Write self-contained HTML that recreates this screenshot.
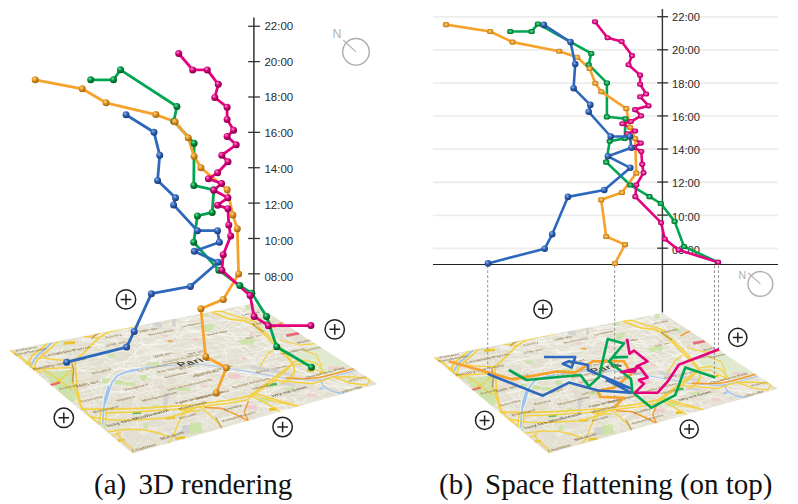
<!DOCTYPE html>
<html><head><meta charset="utf-8"><title>Figure</title>
<style>
html,body{margin:0;padding:0;background:#fff;}
body{width:798px;height:504px;overflow:hidden;position:relative;font-family:"Liberation Sans",sans-serif;}
svg{position:absolute;left:0;top:0;display:block}
.tl{font-family:"Liberation Sans",sans-serif;font-size:11.5px;fill:#2a2a2a;}
.tr{font-family:"Liberation Sans",sans-serif;font-size:11.15px;fill:#2a2a2a;}
.cn{font-family:"Liberation Sans",sans-serif;}
.mt{font-family:"Liberation Sans",sans-serif;}
.cap{position:absolute;font-family:"Liberation Serif",serif;font-size:29px;color:#111;white-space:nowrap;line-height:32px;}
.gp{display:inline-block;width:12.2px}
</style></head><body>
<svg width="798" height="504" viewBox="0 0 798 504">
<defs>
<radialGradient id="sb" cx="0.38" cy="0.34" r="0.68"><stop offset="0" stop-color="#8fb4ee"/><stop offset="0.45" stop-color="#2f62b5"/><stop offset="1" stop-color="#173a78"/></radialGradient>
<radialGradient id="so" cx="0.38" cy="0.34" r="0.68"><stop offset="0" stop-color="#ffd58a"/><stop offset="0.45" stop-color="#e0921d"/><stop offset="1" stop-color="#9a5f0c"/></radialGradient>
<radialGradient id="sg" cx="0.38" cy="0.34" r="0.68"><stop offset="0" stop-color="#6fe0a0"/><stop offset="0.45" stop-color="#00913f"/><stop offset="1" stop-color="#00521f"/></radialGradient>
<radialGradient id="sp" cx="0.38" cy="0.34" r="0.68"><stop offset="0" stop-color="#ff8fcf"/><stop offset="0.45" stop-color="#d4007a"/><stop offset="1" stop-color="#7c0046"/></radialGradient>
<radialGradient id="qb" cx="0.48" cy="0.46" r="0.72"><stop offset="0" stop-color="#8fb4ee"/><stop offset="0.5" stop-color="#2f62b5"/><stop offset="1" stop-color="#173a78"/></radialGradient>
<radialGradient id="qo" cx="0.48" cy="0.46" r="0.72"><stop offset="0" stop-color="#ffd58a"/><stop offset="0.5" stop-color="#e0921d"/><stop offset="1" stop-color="#9a5f0c"/></radialGradient>
<radialGradient id="qg" cx="0.48" cy="0.46" r="0.72"><stop offset="0" stop-color="#6fe0a0"/><stop offset="0.5" stop-color="#00913f"/><stop offset="1" stop-color="#00521f"/></radialGradient>
<radialGradient id="qp" cx="0.48" cy="0.46" r="0.72"><stop offset="0" stop-color="#ff8fcf"/><stop offset="0.5" stop-color="#d4007a"/><stop offset="1" stop-color="#7c0046"/></radialGradient>
<filter id="blur" x="-5%" y="-5%" width="110%" height="110%"><feGaussianBlur stdDeviation="0.55"/></filter>
<clipPath id="clip1"><polygon points="9.5,350.5 253.5,303.5 377.5,384.0 132.5,453.5"/></clipPath>
<clipPath id="clip2"><polygon points="433.5,357.5 662.5,313.0 777.8,388.8 548.5,453.5"/></clipPath>
</defs>
<rect width="798" height="504" fill="#fff"/>
<g clip-path="url(#clip1)"><g filter="url(#blur)">
<polygon points="9.5,350.5 253.5,303.5 377.5,384.0 132.5,453.5" fill="#e2dfd0" stroke="#e2dfd0" stroke-width="2"/>
<path d="M190.6 383.6L203.8 369.0M120.7 391.0L122.5 385.3M102.6 395.9L123.5 391.3M237.8 372.8L266.6 366.6M40.1 357.7L56.3 372.2M222.2 401.6L239.6 406.1M226.9 350.3L242.2 360.4M225.0 339.2L230.1 342.8M216.7 407.2L226.1 406.6M164.4 433.8L201.6 423.3M185.9 375.0L194.1 382.6M90.2 334.9L103.0 335.8M188.6 318.6L195.0 314.3M142.5 345.5L160.0 341.6M139.1 338.7L155.5 355.1M242.8 307.8L267.5 302.4M30.7 369.0L45.4 354.8M254.1 343.9L272.0 337.9M54.9 394.9L57.8 375.3M227.8 320.8L239.9 320.7M235.1 325.6L253.0 335.3M227.5 352.1L235.7 344.3M90.7 386.5L110.8 399.8M232.2 414.7L236.5 408.0M100.6 393.1L102.4 384.4M203.0 319.1L212.7 319.4M144.8 385.7L155.5 382.0M323.1 354.0L333.9 357.5M284.0 336.2L303.8 351.1M166.1 327.7L182.1 325.3M78.1 401.5L112.1 396.1M314.3 384.0L331.2 393.0M264.8 343.0L286.4 339.9M102.2 335.0L125.0 328.5M302.2 365.7L331.0 368.4M219.5 406.3L241.1 400.6M220.7 358.1L225.9 363.2M73.0 332.7L90.5 343.0M238.4 343.9L243.8 338.2M188.5 332.1L219.7 334.7M273.1 341.3L274.2 335.4M226.6 403.4L261.0 396.0M226.9 322.1L230.8 316.8M166.1 369.0L183.6 384.5M196.2 408.2L200.9 413.0M196.3 350.2L193.9 344.6M151.4 410.8L160.3 416.6M252.5 314.6L274.2 310.9M323.3 355.8L331.6 362.5M259.0 359.1L271.0 355.2M254.4 402.5L283.9 412.5M293.3 359.5L319.6 373.2M86.6 389.2L111.8 382.7M199.2 377.0L224.4 391.1M166.2 427.9L192.7 423.4M163.6 405.0L173.6 402.1M149.6 367.9L155.0 371.9M114.0 327.1L143.6 335.3M246.3 412.2L273.0 422.7M236.4 375.2L252.3 386.1M236.9 394.8L265.5 402.3M97.6 343.0L120.9 350.4M129.1 339.6L137.6 338.1M194.0 360.8L192.3 355.7M72.3 397.1L110.9 400.2M122.9 383.6L155.9 374.8M141.8 331.8L179.2 333.7M305.3 402.0L316.5 397.8M138.8 370.6L139.4 359.4M287.9 352.4L306.9 366.9M148.8 363.4L171.1 371.0M254.0 402.0L253.7 395.7M266.9 329.0L273.4 334.6M241.9 316.4L249.0 320.1M120.1 427.0L156.0 427.3M190.3 394.8L211.2 387.3M343.9 388.8L366.0 383.9M219.9 379.6L231.6 390.2M74.9 397.6L95.3 406.3M64.9 361.2L103.9 356.6M175.3 334.5L178.0 330.0M185.0 371.5L205.6 371.0M238.9 327.3L244.5 320.4M173.5 328.9L182.3 326.8M178.0 344.3L183.7 330.8M89.4 347.3L110.2 344.3M302.3 363.5L322.4 364.9M62.3 387.4L75.6 370.4M180.9 422.1L200.7 435.9M189.3 362.1L202.3 350.7M253.4 308.9L250.6 303.1M121.6 332.1L125.8 335.6M180.0 420.0L200.9 426.9M261.6 391.2L285.8 385.2M222.8 417.1L237.7 417.1M212.6 373.3L234.8 375.3M203.6 347.5L213.1 354.2M266.0 383.2L277.2 378.7M213.0 353.1L230.5 352.3M131.5 439.5L160.1 456.7M218.5 333.2L226.3 337.2M165.1 434.2L172.2 440.4M149.2 345.6L160.4 342.9M202.6 392.9L214.6 381.0M183.0 401.7L214.0 396.8M190.5 363.3L204.0 375.5M157.5 395.5L158.8 388.4M215.1 323.3L230.7 334.0M227.3 313.1L238.0 309.7M169.0 323.8L197.3 331.3M224.4 372.9L236.0 381.1M182.6 402.7L204.4 398.6M208.7 393.7L229.9 395.1M172.4 408.2L190.7 403.1M158.2 351.5L183.2 357.3M264.3 349.8L274.4 346.2M242.5 354.4L250.7 359.3M208.8 346.8L226.0 342.3M220.3 396.7L229.9 403.6M123.8 430.8L144.2 424.7M293.6 367.2L306.6 378.0M147.1 409.7L154.6 417.4M205.7 374.6L235.1 368.6M192.2 345.3L202.5 347.7M230.8 317.4L253.3 310.6M92.2 354.0L113.7 360.0M210.2 426.9L233.2 420.4M284.1 392.5L323.4 394.8M305.1 378.0L336.9 372.6M224.9 388.3L242.9 383.4M86.2 351.2L106.2 352.3M143.9 356.6L171.2 350.6M257.3 386.8L285.9 382.1M268.8 402.8L280.3 399.1M93.2 363.0L101.1 356.9M269.0 332.0L288.9 346.4M271.1 347.0L289.3 348.7M158.4 345.8L168.5 343.0M342.6 365.4L348.0 369.7M333.3 375.8L343.5 382.3M179.8 333.7L191.1 332.0M295.1 403.3L301.5 407.8M102.8 434.5L115.1 432.1M230.0 366.1L234.6 362.0M34.1 364.4L38.3 369.7M114.0 384.1L150.1 395.4M132.6 366.9L154.6 372.9M176.2 397.0L203.9 391.0M168.6 318.1L191.1 319.7M195.8 363.1L227.3 358.3M235.8 317.5L265.1 320.6M262.2 360.5L272.9 357.3M217.1 429.6L215.9 414.3M222.6 318.5L232.5 316.8M104.0 380.2L109.8 375.5M133.8 449.5L146.8 449.2M246.5 310.8L262.3 323.2M254.5 414.2L249.4 403.5M346.8 370.4L345.0 363.2M174.1 393.2L187.8 390.0M309.9 384.4L309.5 377.0M183.5 348.7L206.6 355.9M309.5 342.1L314.6 345.6M216.2 328.3L227.2 318.3M138.1 428.8L145.9 435.0M131.3 386.3L155.6 394.3M143.4 409.8L150.4 415.8M194.1 414.9L204.6 424.8M116.2 394.2L136.4 389.1M159.0 395.3L190.2 396.3M92.9 382.9L111.3 377.3M107.3 381.6L132.1 397.8M170.4 323.6L189.4 319.5M181.3 367.5L185.1 356.0M250.5 359.2L265.7 347.2M219.7 320.9L240.4 318.4M113.6 333.5L136.9 328.0M259.4 356.2L276.3 371.4M80.4 378.8L113.7 392.5M242.4 353.8L258.7 365.4M347.0 386.2L358.3 395.8M162.3 412.0L160.8 406.3M105.5 398.7L110.4 390.8M24.1 371.9L47.2 358.9M128.9 407.2L135.9 411.2M148.7 382.0L157.1 376.3M164.3 418.1L168.5 422.7M169.6 344.5L185.3 341.7M271.6 325.4L283.2 326.3M131.0 337.8L150.6 349.0M83.0 357.6L91.7 366.5M187.2 336.8L193.1 342.5M157.5 396.0L167.6 393.5M154.2 332.4L155.3 322.1M219.1 315.5L224.7 321.0M145.0 386.8L158.0 384.5M286.7 408.5L282.1 390.1M27.1 348.2L40.9 357.9M195.6 363.7L216.9 371.4M87.8 389.0L96.4 381.7M145.4 390.6L146.4 382.4M253.2 390.5L250.5 373.5M46.9 348.2L61.7 339.5M216.1 312.9L237.7 310.4M168.8 323.9L186.2 323.4M255.3 351.6L270.2 355.3M220.4 385.2L221.2 380.3M205.9 392.8L230.9 383.9M94.3 388.4L112.7 382.0M98.5 401.3L103.7 396.2M272.7 381.0L270.0 373.5M126.5 332.4L137.4 339.7M53.5 389.3L81.3 384.3M169.4 353.9L189.1 367.1M141.0 346.3L160.3 353.6M117.5 376.7L131.2 387.3M243.8 324.7L253.0 324.9M125.5 358.4L154.1 352.4M230.0 373.7L243.0 381.6M276.8 382.4L303.0 377.3M31.7 379.8L72.5 380.2M183.9 401.5L200.4 407.4M156.9 339.9L165.0 342.5M165.3 373.8L188.1 368.6M260.0 372.5L289.8 367.7M158.5 359.6L169.8 366.6M174.5 332.8L194.9 329.7M331.2 390.8L337.3 395.4M181.0 354.0L213.7 349.8M226.7 333.1L248.6 332.6M147.7 362.0L155.3 356.2M154.7 408.9L163.4 416.7M304.1 392.6L317.0 389.1M174.3 318.0L208.7 317.4M129.3 377.4L128.0 362.6M29.4 344.0L39.0 355.6M321.4 388.7L326.0 380.7M96.0 411.6L109.7 426.0M160.3 327.0L191.9 322.8M285.2 335.5L298.2 333.2M221.0 424.9L236.6 420.9M194.3 337.8L228.6 333.6M116.8 379.0L151.5 386.9M80.5 348.9L108.0 342.3M295.5 403.5L315.5 395.8M231.6 334.6L261.2 334.6M95.4 352.1L112.9 368.3M343.2 391.6L358.2 388.8M213.2 388.4L240.8 379.1M40.6 366.4L67.1 376.3M210.7 329.2L233.0 341.7M320.9 384.1L322.8 371.7M265.8 393.9L280.5 388.3M80.6 357.6L108.9 351.6M109.7 355.9L120.1 364.9M100.8 419.5L116.7 416.7M305.5 404.0L333.5 395.3M54.7 353.6L75.6 341.0M136.7 405.3L180.7 407.7M205.4 331.9L211.3 337.0M279.8 350.3L290.1 359.3M99.6 338.7L101.0 331.5M106.7 361.5L115.9 350.7M51.2 341.1L55.1 344.7M257.4 411.0L267.4 421.6M211.6 401.9L227.9 402.3M197.0 419.2L207.0 430.8M47.5 346.1L76.1 340.7M190.2 395.8L207.1 405.3M61.7 379.3L77.9 383.6M203.8 404.6L226.8 400.8M185.6 426.1L196.2 421.7M153.3 358.2L162.3 366.8M133.9 352.8L142.6 359.8M210.8 333.3L234.5 328.6M115.7 341.4L128.5 350.0M112.6 336.6L134.0 331.6M28.8 366.7L41.5 364.7M234.3 408.9L254.9 424.2M213.3 315.6L230.6 317.4M258.8 358.4L278.6 351.9M241.4 318.0L241.3 304.6M198.9 378.0L223.1 369.8M171.2 368.4L192.2 368.9M144.2 331.7L154.7 322.1M254.7 320.5L258.9 315.0M100.2 378.7L134.5 388.8M298.9 393.7L323.8 385.0M307.3 373.9L322.5 377.9M306.8 362.3L318.2 370.0M245.6 391.4L269.4 408.4M92.4 402.1L99.3 397.6M312.7 370.4L321.1 373.8M228.0 321.9L240.7 328.3M228.3 319.9L235.7 318.6M236.5 309.6L246.1 316.1M270.9 411.5L289.9 410.0M339.6 391.8L336.3 384.7M121.2 397.6L131.9 394.0M206.5 347.6L213.9 351.4M235.8 340.4L242.9 346.3M224.1 359.2L222.6 349.2M270.0 332.5L293.8 332.4M139.7 432.6L163.1 427.3M206.4 404.9L202.7 390.5M150.9 356.1L158.9 349.8M197.9 336.7L224.0 337.1M130.0 356.9L163.2 351.9M158.2 327.5L171.0 334.5M81.3 397.8L94.4 415.3M190.6 331.9L208.5 327.7M197.0 385.9L234.0 380.5M135.8 341.8L169.1 353.6M324.6 349.6L340.1 359.8M109.1 343.9L143.2 342.9M131.2 412.6L136.7 393.7M217.4 325.6L221.9 318.4M345.4 380.7L358.9 375.3M212.4 318.6L221.1 321.4M47.0 348.9L65.5 353.9M112.5 376.7L140.1 373.1M199.5 362.9L221.2 359.3M292.0 344.5L327.4 346.3M116.5 330.7L127.6 329.2M104.7 394.8L127.6 388.9M146.0 353.8L153.5 358.5M146.4 372.4L168.0 381.6M151.6 360.4L150.2 351.4M248.9 342.6L260.3 342.7M218.2 312.7L233.7 317.1M260.7 379.9L278.7 374.5M198.4 372.3L220.7 366.3M72.9 402.1L89.9 414.8M245.5 329.1L242.8 323.4M230.7 391.7L244.7 389.2M324.1 386.7L335.4 393.8M148.9 440.1L161.7 449.2M275.6 366.0L296.1 363.2M235.2 363.7L240.1 367.6M156.4 327.0L167.2 316.6M56.8 351.0L77.9 346.3M247.9 349.7L279.8 344.7M237.8 364.7L255.5 361.3M256.0 322.6L267.6 322.8M72.6 367.8L96.7 366.5M143.1 413.2L156.8 399.3M196.2 363.6L207.8 367.8M96.2 373.1L116.1 369.3M196.5 384.6L205.6 373.2M229.8 349.2L243.0 346.8M148.8 369.7L157.7 367.1M192.9 395.2L204.2 396.1M359.1 379.9L361.7 375.1M209.1 319.3L216.1 324.1M217.8 364.2L230.8 373.4M218.4 320.4L228.9 317.6M138.2 429.2L134.0 407.5M220.2 339.3L238.4 352.8M74.0 379.6L90.4 376.1M150.1 382.7L160.1 390.2M320.9 392.1L332.3 390.0M220.8 368.5L245.0 363.0M137.3 367.0L150.3 378.2M169.1 353.7L179.1 364.3M221.9 310.0L254.6 317.7M91.2 337.7L94.6 331.7M186.5 418.3L216.1 413.3M74.5 401.0L95.9 408.0M116.8 417.4L117.4 409.4M175.0 372.3L183.7 370.6M76.8 367.3L87.7 374.4M350.8 383.8L380.7 378.2M265.6 395.3L264.9 382.1M86.9 398.0L103.2 392.7M242.7 308.3L252.1 305.7M11.6 348.9L23.1 364.8M113.4 351.9L146.9 350.3M60.6 378.5L71.2 387.4M282.7 335.5L293.3 341.2M171.1 431.5L196.9 422.6M232.9 372.4L234.3 366.1M79.8 387.9L96.5 403.8M120.8 418.8L127.0 423.6M141.6 363.6L161.8 361.1M192.5 381.6L213.8 395.7M288.5 354.7L313.6 348.6M21.4 352.0L34.8 349.2M170.1 419.0L179.0 428.9M129.6 413.4L141.2 409.5M313.3 372.9L320.6 360.7M141.8 430.9L172.3 424.2M103.9 353.0L125.4 347.5M260.3 357.9L270.9 354.2M340.3 381.9L376.0 390.8M187.3 416.0L186.7 401.7M153.0 344.2L158.2 341.1M173.1 350.0L197.4 342.9M237.4 305.9L259.1 307.8M139.0 346.4L169.9 337.6M151.3 389.9L159.8 397.5M71.5 359.4L73.8 349.5M191.7 437.5L203.8 418.1M192.2 367.2L210.8 383.8M134.8 393.8L153.7 390.1M169.4 323.1L178.9 315.1M252.8 372.3L278.4 371.8M60.0 380.6L64.7 374.5M134.3 376.8L143.2 374.3M231.6 329.7L249.0 333.8M298.8 347.2L301.9 340.3M308.6 364.4L323.1 351.1M274.5 376.9L291.7 391.7M86.5 382.0L110.8 395.9M197.5 381.6L227.5 384.2M259.9 309.9L274.3 323.1M147.1 386.6L158.6 400.1M264.7 367.7L296.6 370.4M272.0 412.4L279.3 398.2M25.6 358.5L43.0 370.1M240.4 352.8L257.9 364.7M245.4 380.6L274.3 372.1M208.5 431.7L206.1 419.2M128.8 355.6L137.1 359.2M283.7 355.9L293.1 347.4M127.9 389.3L140.5 398.7M50.4 375.1L80.6 387.5M179.6 430.1L186.1 425.1M192.4 383.0L224.7 395.4M206.2 357.4L218.2 354.8M184.7 329.3L196.8 340.0M169.4 413.5L191.7 408.7M357.3 373.4L375.1 389.0M149.4 326.5L159.6 319.2M303.1 336.8L320.2 347.3M94.9 421.9L120.3 414.0M6.6 355.4L38.3 357.3M340.8 379.9L355.5 367.7M90.2 330.3L117.3 339.2M170.8 406.6L183.2 415.8M112.2 374.7L123.2 384.3M175.9 330.9L186.6 322.3M238.5 358.1L249.2 359.1M177.6 409.3L179.3 394.4M101.3 372.0L105.4 360.2M192.4 354.8L214.1 354.9M175.9 337.7L213.2 337.8M90.8 398.5L100.1 408.9M259.1 355.7L278.4 367.0M263.6 413.7L287.6 408.5M144.9 384.5L160.5 391.1M208.6 340.7L219.9 341.4M187.4 380.8L203.4 365.4M118.9 335.5L144.0 329.5M253.4 335.8L270.7 345.2M189.4 357.0L207.4 356.4M65.6 342.4L74.7 340.8M143.0 389.4L137.6 372.7M141.6 397.4L164.9 413.6M293.2 370.0L318.4 363.2M282.7 400.7L299.5 412.9M161.5 427.9L180.4 446.9M319.8 389.4L340.4 383.6M174.8 421.1L181.2 426.1M186.0 320.6L210.9 317.1M36.6 344.1L46.7 354.5M24.0 358.3L53.6 354.5M28.2 355.8L50.6 368.8M185.6 345.2L211.6 358.6M79.8 335.3L87.4 340.7M140.6 430.9L148.4 424.0M236.9 356.7L256.4 358.2M184.0 366.6L210.9 378.2M104.6 362.6L139.8 360.8M97.2 347.6L123.1 356.7M85.8 383.7L102.5 403.0M52.6 364.0L65.4 374.9M51.9 373.1L55.7 378.3M11.7 362.6L48.2 364.7M260.2 404.9L286.7 405.6M178.1 338.1L185.5 332.6M105.5 373.2L139.4 386.5M94.7 417.6L103.6 425.7M200.5 416.8L238.3 428.9M178.7 410.7L184.0 415.7M272.9 367.9L290.5 381.1M291.0 396.8L307.0 411.7M240.0 372.0L255.9 369.4M171.5 388.1L212.8 388.7M192.7 341.0L197.9 345.2M219.5 348.8L245.5 345.6M269.7 333.2L285.0 328.1M55.7 372.7L90.1 361.8M201.2 361.0L202.2 349.1M201.2 373.1L201.8 362.9M196.1 323.1L210.7 318.9M282.4 362.0L307.5 357.4M109.6 336.0L115.7 339.6M149.8 399.3L158.3 396.3M273.0 402.1L286.2 398.8M67.5 345.5L84.1 354.9M108.7 391.5L131.6 391.5M165.9 372.7L175.1 371.5M289.6 342.3L290.3 335.4M239.8 314.4L272.5 317.3M234.4 307.5L243.8 313.0M288.5 398.7L317.7 391.6M201.8 324.2L231.0 319.7M244.2 384.9L246.7 372.8M352.7 367.4L359.0 372.9M140.3 334.9L162.7 330.2M160.8 382.4L180.1 394.8M126.2 377.8L123.3 361.1M173.1 389.2L197.2 381.0M226.6 355.9L235.6 359.0M223.6 331.3L240.2 319.8M140.3 380.9L160.6 394.5M216.3 371.3L235.2 381.9M214.7 400.9L238.4 409.7M248.4 309.7L258.7 308.5M248.4 359.8L252.9 364.2M148.4 336.7L147.3 332.3M113.1 396.0L121.7 406.1M296.2 354.2L294.5 349.9M177.7 407.4L187.5 407.4M272.1 345.9L287.2 349.5M133.4 365.8L166.2 361.7M90.5 404.6L114.7 406.0M316.9 358.3L325.4 362.7M258.7 412.6L280.5 406.2M255.9 389.8L263.0 382.4M250.5 325.9L259.3 322.9M55.8 356.9L69.0 354.4M197.3 382.0L205.5 379.6M118.6 331.8L145.9 337.8M222.3 405.3L241.2 423.4M155.5 352.2L184.4 351.7M136.0 345.5L144.6 338.8M323.9 372.7L336.7 370.3M138.0 381.6L150.0 394.4M223.5 338.6L259.6 341.9M140.3 338.3L153.3 334.9M215.1 379.2L222.5 383.6M313.0 354.6L328.3 349.0M189.8 379.7L204.6 395.0M213.7 343.8L222.8 350.5M259.5 342.1L272.5 338.4M260.0 312.8L274.6 322.9M300.5 348.2L324.4 342.7M169.7 413.0L190.4 431.9M335.3 368.9L340.4 372.8M126.3 326.5L158.9 325.7M129.8 382.4L133.6 378.1M141.0 353.7L172.5 346.0M129.7 427.0L156.2 417.8M127.9 392.4L138.6 405.6M324.6 368.6L348.2 362.4M98.6 390.5L134.4 392.8M31.7 361.6L72.3 356.0M49.1 358.7L66.3 355.4M63.2 376.9L91.7 375.2M248.5 317.9L268.0 329.1M179.7 372.8L185.5 377.0M184.8 327.5L206.3 323.6M117.3 451.5L145.8 452.0M146.2 416.4L155.5 409.9M147.6 370.7L170.3 367.5M237.2 308.5L252.4 319.6M172.3 374.0L188.8 361.5M325.5 362.1L338.2 357.1M297.0 349.1L311.4 349.9M43.3 372.0L65.8 385.8M259.4 394.0L273.8 393.8M93.7 418.3L117.9 434.1M100.3 380.7L118.3 368.1M62.2 399.2L95.9 391.2M237.6 304.2L256.9 317.8M176.8 434.5L184.1 442.8M143.9 377.7L145.3 370.7M272.7 353.2L298.9 345.6M117.7 336.5L134.1 336.0M179.0 373.5L193.2 369.6M177.8 375.1L191.9 384.6M144.5 377.5L173.9 376.1M110.9 365.2L140.0 357.2M190.1 318.7L209.4 314.7M164.5 362.0L174.5 365.4M250.8 356.4L269.5 352.8M303.5 373.0L335.6 383.5M174.9 331.9L187.2 330.5M136.6 422.7L145.7 408.2M18.1 369.9L55.6 372.8M291.7 338.3L295.4 334.9M66.0 389.1L84.1 400.7M251.8 320.0L256.6 311.1M95.0 372.8L115.7 379.2M348.7 379.5L363.4 383.3M287.9 341.3L297.3 348.1M154.8 436.9L166.7 434.1M312.2 382.6L325.7 392.1M332.9 365.1L335.6 357.4M313.2 350.0L319.8 355.0M269.1 318.4L274.8 322.8M337.8 372.1L344.1 376.5M23.8 359.7L33.8 347.9M241.2 321.1L250.9 328.5M240.1 343.5L254.2 343.8M212.8 407.4L244.0 396.2M222.1 319.7L247.2 321.8M187.1 322.2L185.0 315.0M128.1 366.1L162.4 357.4M239.2 370.2L269.3 365.9M133.5 330.9L134.4 325.2M99.5 324.1L118.3 339.7M305.6 365.1L327.9 379.7M247.9 356.5L266.2 366.1M153.3 403.5L183.4 396.4M91.1 389.4L99.8 398.7M189.4 343.2L201.7 349.6M208.3 418.6L205.4 405.4M231.4 415.9L228.0 406.4M18.9 362.5L60.8 356.6M227.0 321.0L231.6 316.9M174.0 349.1L177.8 345.0M100.4 351.5L112.5 360.5M339.1 379.2L349.0 387.7M186.2 373.9L211.0 366.4M226.5 324.4L237.0 317.2M183.0 316.7L203.8 321.3M102.2 348.5L136.5 348.6M176.6 368.7L190.2 382.2M185.6 395.0L211.5 410.9M338.5 369.6L335.8 359.6M220.8 341.8L238.0 343.6M23.3 350.7L47.9 344.3M222.3 416.5L232.2 423.0M40.3 353.1L43.9 342.0M212.3 332.1L220.5 336.9M334.8 377.5L365.0 386.7M45.7 380.0L78.9 369.1M215.0 312.3L246.6 312.4M94.5 397.9L105.1 394.5M142.1 345.5L141.6 331.2M187.6 346.7L206.4 362.5M89.9 359.1L99.2 353.4M180.3 354.5L189.0 352.7M264.5 333.3L284.6 344.2M278.0 327.9L283.3 316.1M235.2 418.8L245.3 415.0M275.8 391.3L272.2 382.8M163.6 378.9L194.8 372.7M244.4 327.6L258.3 317.4M113.2 355.6L125.8 347.1M131.3 365.9L148.5 382.1M158.1 387.8L158.3 381.4M224.3 424.1L240.7 424.1M269.2 352.0L284.3 339.4M193.3 358.5L220.2 353.5M46.0 351.3L59.0 350.9M259.8 390.0L290.2 400.6M35.0 385.6L76.2 379.2M70.6 336.2L102.7 345.2M142.3 345.0L175.8 343.5M54.5 346.7L54.9 340.3M318.9 361.6L332.8 372.3M228.1 330.1L236.5 337.6M150.0 389.1L166.6 404.5M76.4 347.8L99.6 344.9M205.9 422.6L240.8 413.8M190.9 347.7L208.2 348.5M307.9 364.0L316.7 370.5M212.1 399.9L247.7 409.5M243.0 360.7L258.2 365.7M100.2 339.4L114.4 347.0M255.6 417.1L252.2 409.0M206.8 314.0L228.4 308.3M138.2 334.1L164.4 342.1M91.0 339.3L103.5 349.9M112.7 368.1L151.9 368.9M105.7 339.0L140.7 349.9M109.8 341.1L137.1 334.6M253.9 352.4L263.9 342.4M237.1 365.8L259.5 362.2M240.2 422.0L249.7 412.8M81.4 340.5L107.5 333.7M172.2 333.9L195.5 346.6M172.9 345.8L181.0 332.8M263.8 336.0L269.2 340.7M215.4 314.7L215.5 307.7M166.0 385.7L161.2 371.8M158.1 381.4L165.4 371.7M209.0 419.9L219.3 409.3M187.1 428.5L205.8 435.5M236.0 345.4L250.9 356.5M272.1 343.1L284.1 343.4M260.1 398.4L289.2 414.5M248.5 393.4L263.9 409.2M78.9 392.2L107.5 384.5M152.6 386.5L155.2 369.7M310.2 356.9L321.9 364.6M163.7 361.6L179.3 371.0M150.1 390.9L159.9 388.8M212.9 377.7L240.5 392.2M316.1 393.7L332.6 403.3M147.1 342.1L182.4 336.5M37.9 350.4L53.3 346.5M143.6 371.1L163.6 378.0M277.0 382.9L307.8 390.9M225.4 311.2L241.3 319.9M52.4 387.7L56.3 383.6M125.3 368.9L134.4 377.1M238.5 322.9L254.3 330.6M192.3 378.6L211.0 377.4M246.2 355.9L267.4 363.7M204.5 372.3L220.9 383.7M202.1 329.6L228.9 323.5M111.2 393.8L116.8 397.8M183.9 324.1L187.5 318.3M135.1 333.1L136.7 322.9M157.1 405.0L173.2 417.8M197.8 390.6L198.6 380.4M339.0 386.0L362.9 393.5M210.5 342.4L207.3 333.1M150.7 346.9L154.3 350.6M129.4 367.1L137.0 355.7M302.1 385.4L303.9 375.5M174.1 343.6L183.7 352.5M103.8 327.3L115.7 337.4M144.7 448.9L163.2 444.9M188.2 325.2L204.8 335.6M335.5 381.4L352.9 380.9M294.7 400.2L297.1 395.6M165.8 361.6L197.2 355.1M221.6 393.6L255.0 385.8M131.6 453.3L145.4 433.7M284.3 350.2L293.2 356.5M167.7 385.5L181.5 383.0M71.2 399.5L86.3 400.5M205.6 335.0L220.2 347.2M322.1 360.8L329.7 358.0M153.2 360.3L163.1 366.7M124.0 335.0L132.5 340.2M304.8 357.3L322.7 373.0M101.8 386.3L119.4 381.7M97.1 426.5L106.8 424.6M182.0 325.9L199.0 335.8M245.2 382.3L257.3 389.7M120.3 348.9L144.7 357.8M286.2 367.3L298.6 356.5M239.5 372.6L253.6 372.4M216.5 340.9L246.8 351.9M284.2 342.0L305.3 347.0M179.6 370.8L195.9 375.2M204.4 408.4L227.5 403.1M240.2 347.3L250.8 358.0M212.5 361.8L233.1 358.9M68.3 405.9L89.0 406.0M170.9 348.1L190.9 348.6M198.1 393.0L220.5 410.2M239.7 391.5L276.0 389.6M199.9 337.5L205.5 331.9M282.2 383.4L277.7 372.6M274.9 379.0L306.0 378.9M65.2 386.9L77.6 401.9M282.3 355.0L286.9 343.7M77.7 343.3L110.5 335.7M149.4 331.6L151.3 323.2M141.2 333.5L155.1 337.0M88.0 356.8L120.8 348.7M204.2 337.1L216.8 338.4M228.8 353.1L236.2 360.5M265.3 365.2L278.0 361.1M271.8 364.1L298.7 360.5M205.1 352.4L230.0 348.7M165.8 408.5L182.5 409.2M25.8 358.1L37.8 374.4M135.1 352.3L138.9 348.0M359.5 383.5L358.9 372.0M262.0 416.2L266.5 409.6M272.0 398.5L287.4 409.0M232.5 343.1L246.6 330.0M125.4 412.1L147.7 397.5M266.0 330.0L273.2 328.2M213.6 315.4L217.2 318.9M231.8 328.5L248.1 324.6M87.6 419.0L91.0 397.8M210.1 361.7L227.8 371.6M131.4 375.6L146.1 384.7M223.1 334.2L222.5 326.1M247.8 338.1L255.4 342.8M305.9 359.5L329.5 361.1M130.9 363.2L148.3 358.4M83.4 329.1L101.6 341.8M323.7 378.3L341.6 390.1M361.9 386.9L370.2 385.0M235.8 354.4L268.0 350.0M121.1 419.8L137.5 423.5M168.8 337.6L186.5 334.3M201.6 427.4L212.6 424.1M142.6 430.2L161.5 442.8M140.9 363.7L175.0 356.6M256.2 395.3L276.5 387.4M309.9 352.8L317.9 357.7M33.4 355.1L56.8 363.6M187.1 349.4L209.5 344.5M75.2 372.7L107.6 362.8M303.3 403.9L308.5 391.5M120.0 392.9L128.4 391.1M62.2 342.3L95.8 338.0M279.2 363.9L303.3 371.8M165.6 367.3L184.3 377.6M181.4 323.3L206.0 336.9M169.2 367.0L178.1 364.5M137.8 329.5L138.1 323.1M285.0 353.5L292.9 341.6M186.7 391.7L203.6 407.8M118.0 405.9L138.1 421.9M269.1 392.8L286.8 407.2M299.2 351.2L316.4 356.2M82.6 350.2L82.4 336.5M30.9 376.0L36.5 364.4M212.8 418.6L225.3 419.7M235.4 369.2L249.9 374.1M174.7 426.1L196.1 408.4M238.3 305.2L271.8 308.3M263.6 401.8L287.1 396.7M18.4 354.9L51.1 349.2M160.7 353.4L196.1 347.8M249.6 327.7L262.7 339.9M200.8 418.8L219.3 430.8M99.1 335.2L134.2 337.3M222.3 307.1L236.5 315.8M120.9 442.8L123.7 431.8M282.3 344.0L307.8 349.9M265.1 414.3L288.7 409.4M172.2 324.7L177.4 329.1M41.1 358.1L54.6 370.0M294.4 404.2L295.2 398.3M152.1 415.5L154.2 408.6M93.9 355.6L101.0 358.7M227.6 356.6L224.8 349.2M107.0 425.5L130.5 421.9M155.2 326.2L165.2 336.2M286.6 392.7L299.8 403.7M233.9 340.5L247.2 347.3M263.2 339.8L278.5 349.9M262.9 341.9L278.2 349.9M31.1 350.2L55.6 343.9M168.1 422.0L181.6 419.2M63.4 356.0L73.7 364.8M311.8 386.2L336.4 376.2M123.2 327.1L127.6 330.6M126.1 336.6L128.1 331.7M171.4 405.4L202.5 400.8M146.4 448.3L147.7 439.2M123.1 330.7L139.3 347.1M15.7 351.7L29.3 347.8M173.8 313.8L192.2 325.1M187.0 374.9L216.4 367.2M313.5 367.1L335.9 362.9M258.0 351.0L285.5 347.4M279.5 344.4L278.8 334.7M240.6 341.9L253.3 351.8M172.0 339.7L173.8 334.6M193.9 370.0L194.4 356.5M304.6 376.1L315.5 374.5M66.2 334.2L79.1 347.2M270.0 409.5L286.3 403.0M244.4 414.5L258.2 412.0M95.8 420.3L105.6 400.9M281.7 376.8L290.4 375.1M248.2 318.8L255.8 316.8M212.8 423.4L224.8 419.9M67.6 381.4L74.1 374.0M231.5 305.7L249.4 317.2M113.7 413.3L124.3 417.4M224.1 337.8L240.8 348.3M80.1 352.3L105.0 353.4M229.7 414.7L243.1 427.5M261.7 315.9L261.8 307.4M268.0 394.8L274.5 399.8M309.5 348.6L327.9 364.2M139.3 388.4L159.3 405.7M75.6 401.6L111.9 392.0M248.0 369.0L272.7 382.8M260.9 366.5L274.3 361.5M309.4 351.6L309.6 346.6M139.7 346.4L154.0 361.6M29.7 350.7L65.9 362.1M207.1 327.1L237.3 333.9M263.0 349.0L280.1 344.4M136.3 327.8L172.3 323.8M150.8 320.6L159.5 325.1M350.9 374.7L369.6 384.3M353.3 394.2L352.5 380.4M321.9 399.2L324.8 395.3M255.9 372.8L278.7 388.5M317.3 395.0L325.8 392.5M219.4 307.9L226.7 313.3M273.7 367.4L303.1 362.2M344.0 369.0L373.2 377.8M308.4 380.0L340.4 375.1M161.7 419.2L171.4 425.2M182.1 326.9L197.5 337.7M122.1 409.8L133.4 413.2M312.1 393.4L338.8 384.7M215.5 307.9L233.2 321.9M185.2 390.8L206.4 385.8M33.5 361.1L42.9 366.4M52.4 385.2L66.5 385.6M158.9 402.4L172.8 412.5M106.2 411.1L115.5 399.9M173.0 376.8L186.4 374.1M22.9 368.0L49.9 369.0M213.4 345.4L250.4 346.5M235.2 320.8L261.2 329.6M209.8 318.7L212.9 310.0M193.7 412.6L205.7 424.8M181.0 371.3L189.2 362.0M151.2 360.6L162.7 357.1M321.6 383.1L345.0 391.1M132.0 397.5L128.4 381.6M153.9 337.9L160.0 330.1M175.7 414.0L201.4 422.1M173.6 362.6L168.7 345.9M285.4 334.8L300.8 345.4M293.9 398.2L312.7 408.3M322.1 382.6L323.5 369.7M58.7 368.4L79.3 386.0M197.4 358.3L228.5 353.1M176.6 399.6L218.6 399.5M345.3 381.0L347.9 376.8M92.9 391.1L99.9 396.4M221.3 329.2L233.9 317.5M253.0 383.2L285.8 383.2M152.9 411.8L163.8 409.9M268.4 375.4L272.3 369.7M212.5 375.7L211.1 358.4M289.6 389.4L293.7 382.1M67.1 394.3L103.5 383.8M270.2 407.9L281.5 412.7M273.6 357.2L282.9 354.7M79.5 334.5L99.1 345.7M49.3 365.3L57.4 375.7M274.2 348.5L283.2 348.6M143.4 411.0L153.4 410.6M50.4 383.7L77.6 378.1M140.6 348.6L169.7 341.8M138.1 410.6L136.8 397.1M41.8 362.3L63.2 369.5M234.3 301.6L255.5 314.4M122.3 364.4L150.7 372.6M233.5 405.6L259.2 398.1M152.3 372.3L167.7 370.0M190.3 421.6L209.6 429.8M210.7 391.2L225.8 401.1M249.2 330.3L280.2 325.4M130.6 369.9L156.5 366.3M228.4 370.4L241.3 370.6M15.7 351.5L37.4 367.7M200.0 419.4L228.5 408.3M240.0 341.0L250.2 332.1M160.7 351.3L175.9 348.5M322.8 359.4L342.2 352.5M129.7 407.9L143.8 419.6M164.9 416.4L179.9 401.9M256.0 334.8L265.7 337.8M163.5 438.7L180.9 434.3M228.2 391.9L250.8 407.6M242.5 422.8L243.2 405.7M154.3 355.5L171.7 344.4M92.9 334.2L130.5 333.2M297.5 359.4L303.6 362.9M236.2 310.5L247.6 309.0M155.8 393.1L162.9 398.7M277.8 388.5L284.5 393.3M275.0 343.8L293.2 349.1M214.5 375.4L237.3 387.4M300.3 371.8L311.0 369.8M220.2 419.7L248.2 412.4M75.9 395.6L84.4 404.9M44.7 390.3L72.9 385.3M180.9 312.1L205.7 318.6M161.6 325.1L177.7 338.4M251.8 337.8L273.4 333.5M206.5 413.8L213.7 401.5M179.7 335.4L201.4 330.2M88.5 350.2L100.8 347.3M143.5 345.5L168.9 342.0M232.0 384.0L262.6 393.2M144.6 353.2L163.8 349.5M247.8 309.4L265.4 307.1M135.7 360.3L135.0 346.0M275.0 352.6L297.7 345.8M294.8 374.0L328.9 376.0M230.2 420.3L241.1 402.9M135.0 348.5L159.4 347.9M220.9 393.8L232.5 391.5M199.7 388.8L219.2 403.3M93.2 333.7L107.4 334.7M122.6 411.7L131.5 421.6M220.1 363.1L238.9 378.7M271.3 374.1L283.1 372.3M153.5 428.1L187.0 442.6M149.8 332.5L163.1 337.2M65.7 378.9L71.6 383.3M330.8 374.9L363.8 377.2M327.5 375.6L354.5 389.9M322.1 376.4L314.6 363.5M66.9 372.6L79.5 363.6M309.2 369.2L335.1 364.3M72.6 353.8L88.2 367.6M130.0 385.6L146.8 401.0M313.5 363.9L346.6 365.2M132.1 394.4L144.4 406.1M223.0 379.6L233.6 383.4M236.2 405.1L256.5 423.9M318.7 380.7L330.3 378.3M338.4 382.6L333.6 374.1M95.1 340.7L123.4 340.6M33.7 355.9L54.7 361.9M102.9 331.3L113.5 343.0M208.7 369.1L217.6 366.7M226.6 311.9L248.7 305.1M160.2 361.9L176.5 361.8M282.0 386.0L318.7 395.3M33.5 361.1L62.8 354.0M263.2 340.3L265.4 335.2M306.9 394.1L303.6 382.6M192.6 359.9L211.0 375.5M82.1 358.8L90.8 356.8M67.2 361.5L90.4 375.0M176.1 383.7L183.4 377.7M80.4 368.5L88.2 359.1M203.4 396.0L223.7 408.3M139.8 323.2L152.4 331.9M14.9 346.3L27.1 359.1M260.7 398.6L287.6 399.1M309.7 368.0L336.7 367.6M254.2 337.5L277.9 339.6M111.3 338.7L120.8 343.8M179.2 434.5L190.0 439.1M93.3 416.1L104.2 416.4M164.0 369.5L188.2 384.9M138.9 434.3L157.1 429.9M229.1 325.6L243.2 327.2M195.0 324.7L220.3 319.6M223.4 352.2L229.5 341.4M324.8 367.9L340.2 377.9M252.6 371.7L274.9 387.3M180.5 320.2L189.9 320.2M217.2 306.4L225.6 313.5M82.3 367.9L88.3 362.6M109.0 383.0L118.3 386.8M348.2 385.3L379.0 378.9M336.0 386.2L345.9 393.6M138.8 440.8L150.5 448.9M143.6 333.5L170.6 334.1M59.8 357.4L69.3 369.2M186.5 423.1L196.9 426.6M153.8 409.4L170.5 404.8M92.2 388.5L105.0 375.0M213.9 393.4L223.0 401.8M78.5 339.4L105.4 346.4M43.5 373.7L51.2 380.0M223.0 342.7L235.6 355.4M135.2 375.1L147.4 373.5M120.7 433.4L135.5 446.9M327.4 352.9L343.8 366.1M289.3 405.3L306.2 401.5M137.6 336.9L155.1 334.6M147.9 345.8L157.9 344.7M132.7 352.9L138.8 358.4M185.8 366.7L198.8 373.7M304.1 377.2L305.9 372.0M120.7 342.2L126.0 347.6M236.7 403.3L246.6 409.8M198.9 346.9L214.1 335.0M144.0 418.1L171.9 412.0M124.6 422.0L146.2 436.3M261.6 333.0L256.7 318.5M178.1 396.2L198.5 408.6M179.0 383.3L189.0 375.0M171.8 327.6L197.5 321.5M106.1 422.1L122.0 440.4M139.1 342.7L144.1 346.1M6.8 346.4L28.0 353.6M156.4 448.0L177.6 430.3M204.6 364.8L218.7 361.7M157.8 339.1L176.6 335.0M205.9 390.8L216.4 391.5M145.1 361.5L169.4 357.2M268.6 323.1L275.8 310.7M41.7 350.8L63.7 347.1M132.9 402.7L142.1 391.5M103.3 366.5L131.8 361.2M50.8 345.2L62.6 353.0M248.9 400.6L260.9 399.8M257.3 412.5L266.6 396.9M59.8 361.4L74.8 359.5M249.5 368.9L257.0 353.4" stroke="#fff" stroke-width="0.55" fill="none" stroke-opacity="0.6"/>
<polyline points="273.4,360.1 329.5,381.3 380.4,396.3" fill="none" stroke="#fff" stroke-width="0.8" stroke-opacity="0.7"/>
<polyline points="215.0,331.8 261.6,346.5 299.8,360.4" fill="none" stroke="#fff" stroke-width="0.8" stroke-opacity="0.7"/>
<polyline points="224.3,348.4 228.2,365.5 229.2,380.6" fill="none" stroke="#fff" stroke-width="0.8" stroke-opacity="0.7"/>
<polyline points="194.1,370.6 286.4,378.9 356.8,389.4" fill="none" stroke="#fff" stroke-width="0.8" stroke-opacity="0.7"/>
<polyline points="186.9,330.7 235.9,336.4 275.2,337.1" fill="none" stroke="#fff" stroke-width="0.8" stroke-opacity="0.7"/>
<polyline points="233.1,392.3 212.0,414.9 198.3,425.4" fill="none" stroke="#fff" stroke-width="0.8" stroke-opacity="0.7"/>
<polyline points="255.3,370.0 224.1,393.8 202.2,408.6" fill="none" stroke="#fff" stroke-width="0.8" stroke-opacity="0.7"/>
<polyline points="266.0,328.3 279.0,341.9 275.1,358.1" fill="none" stroke="#fff" stroke-width="0.8" stroke-opacity="0.7"/>
<polyline points="269.7,348.2 311.2,362.7 345.1,372.5" fill="none" stroke="#fff" stroke-width="0.8" stroke-opacity="0.7"/>
<polyline points="168.0,364.5 205.0,369.0 255.2,373.9" fill="none" stroke="#fff" stroke-width="0.8" stroke-opacity="0.7"/>
<polyline points="193.1,393.8 250.9,404.6 289.5,411.1" fill="none" stroke="#fff" stroke-width="0.8" stroke-opacity="0.7"/>
<polyline points="98.7,351.9 120.3,367.7 158.6,379.2" fill="none" stroke="#fff" stroke-width="0.8" stroke-opacity="0.7"/>
<polyline points="149.3,337.3 127.1,361.0 96.8,385.3" fill="none" stroke="#fff" stroke-width="0.8" stroke-opacity="0.7"/>
<polyline points="319.6,377.3 289.6,382.7 259.2,397.9" fill="none" stroke="#fff" stroke-width="0.8" stroke-opacity="0.7"/>
<polyline points="51.4,368.5 96.6,371.3 145.7,366.8" fill="none" stroke="#fff" stroke-width="0.8" stroke-opacity="0.7"/>
<polyline points="224.1,326.4 252.5,352.3 288.5,387.1" fill="none" stroke="#fff" stroke-width="0.8" stroke-opacity="0.7"/>
<polygon points="41.0,371.0 57.0,371.5 72.5,369.5 73.5,385.0 76.5,399.0 72.0,403.0 60.0,393.0" fill="#c9e2a4" fill-opacity="0.88"/>
<polygon points="300.0,348.3 320.0,345.3 336.7,355.8 354.2,366.7 340.8,371.7 328.3,373.3 313.3,367.0 300.0,365.0 294.2,355.8" fill="#dde9cd" fill-opacity="0.88"/>
<polygon points="102.5,378.7 109.2,378.3 108.7,383.0 103.0,383.0" fill="#c9e2a4" fill-opacity="0.88"/>
<polygon points="115.0,380.3 124.2,381.3 123.7,385.0 114.7,384.0" fill="#c9e2a4" fill-opacity="0.88"/>
<polygon points="126.7,382.0 135.8,383.0 135.3,386.0 126.3,385.3" fill="#c9e2a4" fill-opacity="0.88"/>
<polygon points="108.3,354.2 115.8,353.3 115.0,357.0 108.0,357.7" fill="#c9e2a4" fill-opacity="0.88"/>
<polygon points="56.7,340.0 62.5,338.7 64.2,341.7 58.0,343.0" fill="#c9e2a4" fill-opacity="0.88"/>
<polygon points="236.7,340.8 250.3,338.0 255.3,341.7 242.0,345.3" fill="#c9e2a4" fill-opacity="0.88"/>
<polygon points="204.2,325.0 213.3,324.3 214.2,327.5 208.3,331.7 204.7,331.0" fill="#c9e2a4" fill-opacity="0.88"/>
<polygon points="201.7,313.3 208.3,313.0 208.3,316.3 202.0,316.7" fill="#c9e2a4" fill-opacity="0.88"/>
<polygon points="146.7,362.5 159.2,362.0 159.2,365.3 147.0,365.8" fill="#c9e2a4" fill-opacity="0.88"/>
<polygon points="139.2,375.0 146.7,374.7 146.7,379.2 139.7,379.7" fill="#c9e2a4" fill-opacity="0.88"/>
<polygon points="245.0,304.7 250.0,304.2 250.3,309.2 245.3,309.7" fill="#c9e2a4" fill-opacity="0.88"/>
<polygon points="140.0,375.0 146.7,375.0 147.0,379.2 140.3,379.7" fill="#c9e2a4" fill-opacity="0.88"/>
<polygon points="115.0,380.0 122.5,380.3 122.2,384.2 114.7,383.7" fill="#c9e2a4" fill-opacity="0.88"/>
<polygon points="124.2,381.7 133.3,382.5 133.0,385.3 124.0,384.7" fill="#c9e2a4" fill-opacity="0.88"/>
<polygon points="102.5,378.7 107.8,379.2 107.5,382.8 102.3,382.3" fill="#c9e2a4" fill-opacity="0.88"/>
<polygon points="176.7,387.5 190.0,388.0 189.7,391.0 176.7,390.5" fill="#c9e2a4" fill-opacity="0.88"/>
<polygon points="151.7,404.7 158.3,404.7 158.3,407.7 151.7,407.7" fill="#c9e2a4" fill-opacity="0.88"/>
<polygon points="143.3,423.3 148.3,423.0 148.0,428.3 143.3,428.7" fill="#c9e2a4" fill-opacity="0.88"/>
<polygon points="190.0,423.3 193.3,423.3 193.3,433.3 190.3,433.3" fill="#c9e2a4" fill-opacity="0.88"/>
<polygon points="99.7,423.0 105.3,423.3 107.0,428.0 100.8,427.5" fill="#c9e2a4" fill-opacity="0.88"/>
<polygon points="190.0,423.3 201.7,422.0 202.5,432.5 190.8,434.2" fill="#c9e2a4" fill-opacity="0.88"/>
<polygon points="258.3,398.3 268.3,397.5 269.2,401.3 259.2,402.0" fill="#c9e2a4" fill-opacity="0.88"/>
<polygon points="180.0,387.5 188.3,388.3 188.0,390.8 180.0,390.3" fill="#c9e2a4" fill-opacity="0.88"/>
<polygon points="260.0,398.3 271.7,397.5 271.3,402.0 260.3,402.7" fill="#c9e2a4" fill-opacity="0.88"/>
<polygon points="285.8,387.5 295.0,387.0 294.7,390.0 285.8,390.3" fill="#c9e2a4" fill-opacity="0.88"/>
<polygon points="250.0,340.0 254.2,340.8 253.7,344.7 250.0,344.2" fill="#c9e2a4" fill-opacity="0.88"/>
<polygon points="266.7,318.3 275.0,321.7 272.5,325.0 265.0,321.3" fill="#c9e2a4" fill-opacity="0.88"/>
<polygon points="193.3,337.5 198.7,338.0 198.3,341.3 193.0,340.7" fill="#f1c9cc" fill-opacity="0.88"/>
<polygon points="228.3,373.3 240.0,374.2 239.7,378.7 228.3,378.0" fill="#f1c9cc" fill-opacity="0.88"/>
<polygon points="241.7,357.0 247.0,357.5 246.7,359.7 241.7,359.3" fill="#f1c9cc" fill-opacity="0.88"/>
<polygon points="162.5,334.2 168.0,334.7 167.7,337.0 162.3,336.7" fill="#f1c9cc" fill-opacity="0.88"/>
<polygon points="228.3,373.3 240.8,374.2 240.3,378.7 228.0,377.7" fill="#f1c9cc" fill-opacity="0.88"/>
<polygon points="246.7,405.0 256.7,405.3 256.3,409.2 246.7,408.8" fill="#f1c9cc" fill-opacity="0.88"/>
<polygon points="200.8,385.0 207.0,385.3 206.7,387.8 200.7,387.5" fill="#f1c9cc" fill-opacity="0.88"/>
<polygon points="328.3,366.3 345.3,366.7 345.8,369.7 328.7,369.3" fill="#f1c9cc" fill-opacity="0.88"/>
<polygon points="306.7,393.3 316.7,394.2 316.3,397.0 306.7,396.3" fill="#f1c9cc" fill-opacity="0.88"/>
<polygon points="250.0,405.0 256.7,405.3 256.3,409.2 250.0,408.7" fill="#f1c9cc" fill-opacity="0.88"/>
<polygon points="157.5,385.8 162.5,386.3 162.0,388.7 157.3,388.3" fill="#f1c9cc" fill-opacity="0.88"/>
<polygon points="250.0,332.5 253.7,333.0 253.3,335.3 250.0,335.0" fill="#f1c9cc" fill-opacity="0.88"/>
<polygon points="151.7,321.3 160.8,322.5 162.5,327.5 153.3,326.3" fill="#cfcfcf" fill-opacity="0.88"/>
<polygon points="171.7,318.0 175.0,318.0 175.8,326.7 172.5,326.7" fill="#cfcfcf" fill-opacity="0.88"/>
<polygon points="183.3,425.0 190.3,424.7 190.0,433.3 183.7,433.7" fill="#cfcfcf" fill-opacity="0.88"/>
<polygon points="163.7,393.3 169.2,393.0 166.7,410.0 163.0,410.3" fill="#cfcfcf" fill-opacity="0.88"/>
<polygon points="181.7,425.8 188.3,425.3 188.7,433.3 182.0,433.7" fill="#cfcfcf" fill-opacity="0.88"/>
<polygon points="250.0,365.0 270.0,368.3 293.3,374.2 292.5,377.0 270.0,372.0 250.0,368.7" fill="#cfcfcf" fill-opacity="0.88"/>
<polygon points="278.3,381.7 293.3,383.3 295.0,386.7 280.0,385.3" fill="#cfcfcf" fill-opacity="0.88"/>
<polygon points="319.2,387.5 323.3,387.2 323.7,389.5 319.5,389.8" fill="#9fc3ea" fill-opacity="0.88"/>
<polygon points="49.7,384.0 59.3,381.3 60.5,383.5 51.0,386.2" fill="#e6586a" fill-opacity="0.88"/>
<polygon points="285.8,334.2 298.3,332.0 299.7,334.5 287.0,337.0" fill="#e6586a" fill-opacity="0.88"/>
<polygon points="132.5,411.7 140.8,411.0 141.2,413.7 132.8,414.3" fill="#3fae49" fill-opacity="0.88"/>
<polygon points="266.3,383.8 276.7,382.7 277.2,385.3 266.8,386.7" fill="#3fae49" fill-opacity="0.88"/>
<polygon points="165.0,417.0 175.0,416.0 175.3,418.7 165.3,419.7" fill="#e8c020" fill-opacity="0.88"/>
<polygon points="117.5,439.3 124.2,438.7 124.5,441.2 117.8,441.8" fill="#e8c020" fill-opacity="0.88"/>
<polygon points="175.0,437.3 185.0,436.0 185.3,438.7 175.3,440.0" fill="#e8c020" fill-opacity="0.88"/>
<polygon points="269.2,408.7 276.7,408.0 277.0,410.3 269.5,411.0" fill="#e8c020" fill-opacity="0.88"/>
<polygon points="269.2,408.0 276.7,407.3 277.0,410.0 269.5,410.7" fill="#e8c020" fill-opacity="0.88"/>
<polygon points="63.3,341.7 75.0,340.7 75.3,343.7 63.7,344.7" fill="#e8c020" fill-opacity="0.88"/>
<polygon points="25.0,361.7 30.0,360.8 30.8,363.7 25.8,364.5" fill="#e8c020" fill-opacity="0.88"/>
<polygon points="306.7,369.3 314.2,369.0 314.3,371.7 306.8,372.0" fill="#e8c020" fill-opacity="0.88"/>
<polyline points="138.3,369.7 125.8,372.0 117.0,375.8 112.0,382.5 109.3,390.0 107.0,398.3 105.0,403.3 108.3,387.0 105.3,396.7 103.8,408.3 103.0,418.3 102.5,425.0" fill="none" stroke="#ffffff" stroke-width="3.2" stroke-linejoin="round" stroke-linecap="round"/>
<polyline points="138.3,369.7 125.8,372.0 117.0,375.8 112.0,382.5 109.3,390.0 107.0,398.3 105.0,403.3 108.3,387.0 105.3,396.7 103.8,408.3 103.0,418.3 102.5,425.0" fill="none" stroke="#9fc3ea" stroke-width="2.0" stroke-linejoin="round" stroke-linecap="round"/>
<polyline points="130.0,370.3 146.7,367.5 163.3,365.8 180.0,365.0 196.7,364.3 208.3,365.3 223.3,367.5 238.3,370.0 263.3,374.3 283.3,378.3 300.0,379.7 313.3,380.3 303.3,380.0 320.0,380.0 336.7,375.8 356.7,370.0 366.7,367.5" fill="none" stroke="#a6c7ee" stroke-width="1.05" stroke-linejoin="round" stroke-linecap="round"/>
<polyline points="320.0,380.0 324.2,387.0 333.3,391.7 343.3,393.7 350.0,393.0" fill="none" stroke="#9fc3ea" stroke-width="1.3" stroke-linejoin="round" stroke-linecap="round"/>
<polyline points="55.8,338.7 47.0,347.5 37.0,355.8 32.0,363.7 30.0,368.7 29.2,371.7" fill="none" stroke="#9fc3ea" stroke-width="1.8" stroke-linejoin="round" stroke-linecap="round"/>
<polyline points="51.3,339.7 42.7,347.5 32.0,355.8 27.5,363.7" fill="none" stroke="#f4d040" stroke-width="1.75" stroke-linejoin="round" stroke-linecap="round"/>
<polyline points="58.7,340.0 50.8,348.3 41.3,355.8 36.2,361.7 34.2,368.3 33.7,371.7" fill="none" stroke="#f4d040" stroke-width="1.75" stroke-linejoin="round" stroke-linecap="round"/>
<polyline points="9.7,350.3 21.7,357.5 27.5,363.7 34.2,368.7 40.8,372.5" fill="none" stroke="#f4d040" stroke-width="1.75" stroke-linejoin="round" stroke-linecap="round"/>
<polyline points="38.3,357.5 60.0,360.0 75.0,360.3" fill="none" stroke="#f4d040" stroke-width="1.41" stroke-linejoin="round" stroke-linecap="round"/>
<polyline points="34.2,369.3 55.0,368.3 73.3,367.5" fill="none" stroke="#f4d040" stroke-width="1.41" stroke-linejoin="round" stroke-linecap="round"/>
<polyline points="75.0,360.3 83.3,353.3 93.3,343.3 98.3,338.3 108.3,332.0 121.7,328.3 138.3,325.3" fill="none" stroke="#f4d040" stroke-width="1.75" stroke-linejoin="round" stroke-linecap="round"/>
<polyline points="76.7,335.0 88.3,336.7 98.3,338.3" fill="none" stroke="#f4d040" stroke-width="1.41" stroke-linejoin="round" stroke-linecap="round"/>
<polyline points="83.3,333.7 95.8,335.3 111.7,328.0" fill="none" stroke="#f4d040" stroke-width="1.23" stroke-linejoin="round" stroke-linecap="round"/>
<polyline points="75.0,360.8 76.0,375.0 77.3,390.0 80.8,403.3 81.7,409.2" fill="none" stroke="#f4d040" stroke-width="1.75" stroke-linejoin="round" stroke-linecap="round"/>
<polyline points="71.7,368.7 73.0,384.2 71.7,375.0 75.8,391.7 80.0,405.0 90.0,416.7 100.0,423.7" fill="none" stroke="#f4d040" stroke-width="1.41" stroke-linejoin="round" stroke-linecap="round"/>
<polyline points="71.7,370.0 60.0,380.0 53.3,383.0" fill="none" stroke="#f4d040" stroke-width="1.23" stroke-linejoin="round" stroke-linecap="round"/>
<polyline points="43.3,370.0 55.0,376.7 71.7,390.0" fill="none" stroke="#f4d040" stroke-width="1.23" stroke-linejoin="round" stroke-linecap="round"/>
<polyline points="138.3,325.3 150.0,316.7 180.0,310.0 196.7,308.0 210.0,310.8 216.7,314.2 230.0,319.2 245.0,320.8 253.3,325.0 263.3,333.3 276.7,346.7 288.3,358.3 293.3,365.0 294.7,371.7 290.8,378.3 282.5,383.3" fill="none" stroke="#f4d040" stroke-width="1.75" stroke-linejoin="round" stroke-linecap="round"/>
<polyline points="210.0,310.8 223.3,311.7 236.7,316.7 246.7,318.7 256.7,322.5 260.0,328.3 273.3,340.0 285.8,353.0 293.0,363.3" fill="none" stroke="#f4d040" stroke-width="1.41" stroke-linejoin="round" stroke-linecap="round"/>
<polyline points="280.0,340.0 298.3,345.0 316.7,343.7" fill="none" stroke="#f4d040" stroke-width="1.23" stroke-linejoin="round" stroke-linecap="round"/>
<polyline points="293.7,364.2 305.0,364.2 316.7,370.0 325.0,373.3" fill="none" stroke="#f4d040" stroke-width="1.23" stroke-linejoin="round" stroke-linecap="round"/>
<polyline points="275.0,348.3 266.7,355.0 260.0,366.7" fill="none" stroke="#f4d040" stroke-width="1.23" stroke-linejoin="round" stroke-linecap="round"/>
<polyline points="303.3,350.0 316.7,355.0 321.7,366.7" fill="none" stroke="#f4d040" stroke-width="1.14" stroke-linejoin="round" stroke-linecap="round"/>
<polyline points="81.7,409.2 110.0,409.2 140.0,408.3 166.7,406.7 193.3,405.0 230.0,400.0 250.0,395.8 273.3,378.3 293.3,363.3 291.7,365.3" fill="none" stroke="#f4d040" stroke-width="1.75" stroke-linejoin="round" stroke-linecap="round"/>
<polyline points="106.7,413.0 135.0,412.0 163.3,410.0 190.0,408.3 200.0,406.7 228.3,403.3 246.7,400.0 255.0,393.3 273.3,381.7 290.0,366.7" fill="none" stroke="#f4d040" stroke-width="1.41" stroke-linejoin="round" stroke-linecap="round"/>
<polyline points="90.0,416.7 110.0,419.7 126.7,420.3 146.7,419.2 166.7,418.0 183.3,413.3 193.3,410.8 200.0,410.8 180.0,410.0" fill="none" stroke="#f4d040" stroke-width="1.41" stroke-linejoin="round" stroke-linecap="round"/>
<polyline points="108.3,431.7 126.7,429.2 143.3,429.7 156.7,432.5 168.3,436.3" fill="none" stroke="#f4d040" stroke-width="1.41" stroke-linejoin="round" stroke-linecap="round"/>
<polyline points="168.3,443.3 173.3,436.3 177.5,425.0 181.7,416.7 186.7,406.7" fill="none" stroke="#f4d040" stroke-width="1.41" stroke-linejoin="round" stroke-linecap="round"/>
<polyline points="116.7,433.3 123.3,441.7 131.3,448.3 133.3,453.0" fill="none" stroke="#f4d040" stroke-width="1.41" stroke-linejoin="round" stroke-linecap="round"/>
<polyline points="111.7,437.0 120.3,432.5" fill="none" stroke="#f4d040" stroke-width="1.23" stroke-linejoin="round" stroke-linecap="round"/>
<polyline points="100.8,409.2 99.7,423.7" fill="none" stroke="#f4d040" stroke-width="1.41" stroke-linejoin="round" stroke-linecap="round"/>
<polyline points="106.3,410.0 105.3,425.0" fill="none" stroke="#f4d040" stroke-width="1.41" stroke-linejoin="round" stroke-linecap="round"/>
<polyline points="250.0,395.8 266.7,403.3 280.0,411.7 286.7,415.8" fill="none" stroke="#f4d040" stroke-width="1.41" stroke-linejoin="round" stroke-linecap="round"/>
<polyline points="255.0,393.3 276.7,400.0 296.7,405.8" fill="none" stroke="#f4d040" stroke-width="1.41" stroke-linejoin="round" stroke-linecap="round"/>
<polyline points="271.7,380.0 291.7,381.7 313.3,383.7 333.3,377.0" fill="none" stroke="#f4d040" stroke-width="1.41" stroke-linejoin="round" stroke-linecap="round"/>
<polyline points="333.3,377.0 353.3,377.0 370.8,378.7 366.7,385.3 350.0,383.0 343.3,380.3 333.3,377.0" fill="none" stroke="#f4d040" stroke-width="1.41" stroke-linejoin="round" stroke-linecap="round"/>
<polyline points="293.3,361.7 305.0,360.0 316.7,363.3 323.3,370.8 316.7,375.8" fill="none" stroke="#f4d040" stroke-width="1.23" stroke-linejoin="round" stroke-linecap="round"/>
<polyline points="253.3,395.0 275.0,401.7 300.0,406.7" fill="none" stroke="#f4d040" stroke-width="1.23" stroke-linejoin="round" stroke-linecap="round"/>
<polyline points="180.0,415.0 193.3,408.3 200.0,406.7" fill="none" stroke="#f4d040" stroke-width="1.23" stroke-linejoin="round" stroke-linecap="round"/>
<polyline points="200.0,406.7 210.0,415.0 221.7,426.7" fill="none" stroke="#f4d040" stroke-width="1.23" stroke-linejoin="round" stroke-linecap="round"/>
<polyline points="72.0,363.7 73.7,370.0 72.5,381.7" fill="none" stroke="#b99a5a" stroke-width="1.5" stroke-linejoin="round" stroke-linecap="round"/>
<polyline points="91.7,338.0 98.3,333.0 105.0,330.8" fill="none" stroke="#b99a5a" stroke-width="1.3" stroke-linejoin="round" stroke-linecap="round"/>
<polyline points="253.3,325.0 263.3,331.7" fill="none" stroke="#b99a5a" stroke-width="1.2" stroke-linejoin="round" stroke-linecap="round"/>
<polyline points="215.8,417.5 221.7,428.3" fill="none" stroke="#b99a5a" stroke-width="1.2" stroke-linejoin="round" stroke-linecap="round"/>
<polyline points="285.8,378.0 305.0,378.7 320.0,377.5 336.7,373.3 355.8,368.0" fill="none" stroke="#f59a2c" stroke-width="1.5" stroke-linejoin="round" stroke-linecap="round"/>
<polyline points="205.0,407.5 221.7,408.3 235.0,414.2 248.3,420.8" fill="none" stroke="#f59a2c" stroke-width="1.4" stroke-linejoin="round" stroke-linecap="round"/>
<polyline points="248.3,401.7 244.2,411.7 248.3,420.8" fill="none" stroke="#f59a2c" stroke-width="1.4" stroke-linejoin="round" stroke-linecap="round"/>
<polyline points="273.3,327.5 282.5,322.5" fill="none" stroke="#f59a2c" stroke-width="1.5" stroke-linejoin="round" stroke-linecap="round"/>
<polyline points="168.0,341.3 172.0,341.0" fill="none" stroke="#f59a2c" stroke-width="1.3" stroke-linejoin="round" stroke-linecap="round"/>
<text transform="matrix(0.3881 -0.0890 0.2512 0.1852 180.50 367.00)" font-size="30" fill="#3a3226" fill-opacity="0.95" letter-spacing="2" class="mt" font-weight="bold">Paris</text>
<text transform="matrix(0.4424 -0.0892 0.2323 0.1897 45.00 357.00)" font-size="14" fill="#86703f" fill-opacity="0.85" class="mt" font-weight="bold">Levallois-Perret</text>
<text transform="matrix(0.4565 -0.0955 0.2356 0.1972 34.17 370.33)" font-size="14" fill="#86703f" fill-opacity="0.85" class="mt" font-weight="bold">Neuilly-sur-Seine</text>
<text transform="matrix(0.4022 -0.0793 0.2324 0.1763 106.67 338.33)" font-size="13" fill="#94794a" fill-opacity="0.85" class="mt" font-weight="bold">Clichy</text>
<text transform="matrix(0.4076 -0.0828 0.2355 0.1804 106.67 346.67)" font-size="13" fill="#94794a" fill-opacity="0.85" class="mt" font-weight="bold">17th arr.</text>
<text transform="matrix(0.4482 -0.1018 0.2472 0.2029 76.67 387.50)" font-size="14" fill="#86703f" fill-opacity="0.85" class="mt" font-weight="bold">16th arr.</text>
<text transform="matrix(0.4316 -0.0952 0.2443 0.1949 93.33 374.17)" font-size="12" fill="#94794a" fill-opacity="0.85" class="mt" font-weight="bold">Chaillot</text>
<text transform="matrix(0.4555 -0.0897 0.2282 0.1912 15.00 355.83)" font-size="13" fill="#86703f" fill-opacity="0.85" class="mt" font-weight="bold">Courbevoie</text>
<text transform="matrix(0.4577 -0.1035 0.2460 0.2054 60.00 390.00)" font-size="12" fill="#94794a" fill-opacity="0.85" class="mt" font-weight="bold">Auteuil</text>
<text transform="matrix(0.3840 -0.0759 0.2336 0.1713 140.00 332.50)" font-size="13" fill="#86703f" fill-opacity="0.85" class="mt" font-weight="bold">18th arr.</text>
<text transform="matrix(0.3822 -0.0770 0.2358 0.1722 149.17 335.83)" font-size="12" fill="#94794a" fill-opacity="0.85" class="mt" font-weight="bold">Montmartre</text>
<text transform="matrix(0.3632 -0.0727 0.2356 0.1661 181.67 327.50)" font-size="12" fill="#94794a" fill-opacity="0.85" class="mt" font-weight="bold">La Villette</text>
<text transform="matrix(0.3572 -0.0752 0.2414 0.1682 208.33 335.83)" font-size="13" fill="#94794a" fill-opacity="0.85" class="mt" font-weight="bold">Belleville</text>
<text transform="matrix(0.3933 -0.0858 0.2448 0.1823 155.00 357.50)" font-size="13" fill="#86703f" fill-opacity="0.85" class="mt" font-weight="bold">2nd arr.</text>
<text transform="matrix(0.3769 -0.0837 0.2473 0.1787 189.17 355.00)" font-size="13" fill="#94794a" fill-opacity="0.85" class="mt" font-weight="bold">3rd arr.</text>
<text transform="matrix(0.3933 -0.0880 0.2480 0.1846 163.33 363.33)" font-size="11" fill="#94794a" fill-opacity="0.85" class="mt" font-weight="bold">Quartier du Marais</text>
<text transform="matrix(0.4096 -0.0925 0.2485 0.1905 138.33 371.67)" font-size="11" fill="#94794a" fill-opacity="0.85" class="mt" font-weight="bold">1st arrondissement</text>
<text transform="matrix(0.4016 -0.0924 0.2513 0.1897 158.33 373.00)" font-size="11" fill="#94794a" fill-opacity="0.85" class="mt" font-weight="bold">Rue Saint-Honore</text>
<text transform="matrix(0.4016 -0.0945 0.2542 0.1919 165.83 378.33)" font-size="12" fill="#94794a" fill-opacity="0.85" class="mt" font-weight="bold">Sorbonne</text>
<text transform="matrix(0.3872 -0.0924 0.2563 0.1885 195.00 375.83)" font-size="11" fill="#94794a" fill-opacity="0.85" class="mt" font-weight="bold">Quartier de la Gare</text>
<text transform="matrix(0.3434 -0.0754 0.2461 0.1672 246.67 339.17)" font-size="12" fill="#94794a" fill-opacity="0.85" class="mt" font-weight="bold">11th arr.</text>
<text transform="matrix(0.3310 -0.0664 0.2360 0.1566 243.33 315.83)" font-size="12" fill="#86703f" fill-opacity="0.85" class="mt" font-weight="bold">Les Lilas</text>
<text transform="matrix(0.3324 -0.0696 0.2407 0.1601 253.33 325.00)" font-size="12" fill="#86703f" fill-opacity="0.85" class="mt" font-weight="bold">Bagnolet</text>
<text transform="matrix(0.3251 -0.0756 0.2522 0.1658 298.33 343.67)" font-size="13" fill="#86703f" fill-opacity="0.85" class="mt" font-weight="bold">Montreuil</text>
<text transform="matrix(0.3382 -0.0806 0.2558 0.1723 281.67 355.00)" font-size="12" fill="#94794a" fill-opacity="0.85" class="mt" font-weight="bold">Saint-Mande</text>
<text transform="matrix(0.3269 -0.0785 0.2563 0.1691 305.00 351.67)" font-size="13" fill="#86703f" fill-opacity="0.85" class="mt" font-weight="bold">Vincennes</text>
<text transform="matrix(0.3588 -0.0891 0.2615 0.1829 257.50 373.33)" font-size="12" fill="#94794a" fill-opacity="0.85" class="mt" font-weight="bold">Bercy</text>
<text transform="matrix(0.3413 -0.0897 0.2682 0.1820 306.67 378.67)" font-size="13" fill="#86703f" fill-opacity="0.85" class="mt" font-weight="bold">Charenton-le-Pont</text>
<text transform="matrix(0.3658 -0.0989 0.2731 0.1935 273.33 397.00)" font-size="14" fill="#5f5035" fill-opacity="0.85" class="mt" font-weight="bold">Ivry-sur-Seine</text>
<text transform="matrix(0.3341 -0.0946 0.2778 0.1865 343.33 393.00)" font-size="13" fill="#86703f" fill-opacity="0.85" class="mt" font-weight="bold">Alfortville</text>
<text transform="matrix(0.3252 -0.0894 0.2733 0.1804 350.00 381.67)" font-size="11" fill="#94794a" fill-opacity="0.85" class="mt" font-weight="bold">Maisons-Alfort</text>
<text transform="matrix(0.4591 -0.1194 0.2660 0.2213 108.33 427.00)" font-size="14" fill="#5f5035" fill-opacity="0.85" class="mt" font-weight="bold">Issy-les-Moulineaux</text>
<text transform="matrix(0.4279 -0.1016 0.2544 0.2011 125.00 390.83)" font-size="12" fill="#94794a" fill-opacity="0.85" class="mt" font-weight="bold">Vaugirard</text>
<text transform="matrix(0.4558 -0.1086 0.2533 0.2103 81.67 402.50)" font-size="12" fill="#94794a" fill-opacity="0.85" class="mt" font-weight="bold">Grenelle</text>
<text transform="matrix(0.4264 -0.1059 0.2607 0.2054 143.33 401.67)" font-size="12" fill="#94794a" fill-opacity="0.85" class="mt" font-weight="bold">Montparnasse</text>
<text transform="matrix(0.4082 -0.1000 0.2594 0.1980 168.33 390.83)" font-size="11" fill="#94794a" fill-opacity="0.85" class="mt" font-weight="bold">14th arrondissement</text>
<text transform="matrix(0.4127 -0.1058 0.2657 0.2042 176.67 404.17)" font-size="11" fill="#94794a" fill-opacity="0.85" class="mt" font-weight="bold">Porte de Vanves</text>
<text transform="matrix(0.4570 -0.1133 0.2590 0.2151 94.17 413.33)" font-size="12" fill="#94794a" fill-opacity="0.85" class="mt" font-weight="bold">Boulogne</text>
<text transform="matrix(0.4384 -0.1069 0.2576 0.2073 117.50 401.67)" font-size="12" fill="#94794a" fill-opacity="0.85" class="mt" font-weight="bold">Vanves</text>
<text transform="matrix(0.4420 -0.1237 0.2780 0.2243 161.67 440.00)" font-size="13" fill="#86703f" fill-opacity="0.85" class="mt" font-weight="bold">Malakoff</text>
<text transform="matrix(0.4632 -0.1310 0.2789 0.2330 133.33 452.00)" font-size="12" fill="#86703f" fill-opacity="0.85" class="mt" font-weight="bold">Chatillon</text>
<text transform="matrix(0.4148 -0.1084 0.2684 0.2070 180.00 410.00)" font-size="13" fill="#86703f" fill-opacity="0.85" class="mt" font-weight="bold">Montrouge</text>
<text transform="matrix(0.3950 -0.1071 0.2738 0.2041 225.00 410.83)" font-size="12" fill="#86703f" fill-opacity="0.85" class="mt" font-weight="bold">Gentilly</text>
<text transform="matrix(0.4024 -0.1124 0.2783 0.2101 223.33 422.00)" font-size="11" fill="#94794a" fill-opacity="0.85" class="mt" font-weight="bold">Kremlin-Bicetre</text>
<text transform="matrix(0.3885 -0.0931 0.2569 0.1894 194.17 377.50)" font-size="11" fill="#94794a" fill-opacity="0.85" class="mt" font-weight="bold">Place d'Italie</text>
<text transform="matrix(0.3780 -0.0965 0.2654 0.1921 233.33 388.33)" font-size="11" fill="#94794a" fill-opacity="0.85" class="mt" font-weight="bold">Quartier de la Gare</text>
<text transform="matrix(0.4109 -0.1054 0.2658 0.2037 180.00 403.67)" font-size="11" fill="#94794a" fill-opacity="0.85" class="mt" font-weight="bold">13th arrondissement</text>
<text transform="matrix(0.4012 -0.1031 0.2663 0.2006 196.67 400.00)" font-size="11" fill="#94794a" fill-opacity="0.85" class="mt" font-weight="bold">Maison Blanche</text>
<text transform="matrix(0.4205 -0.1128 0.2720 0.2118 180.00 419.17)" font-size="12" fill="#94794a" fill-opacity="0.85" class="mt" font-weight="bold">Arcueil</text>
<text transform="matrix(0.3703 -0.0965 0.2681 0.1914 253.33 390.00)" font-size="12" fill="#94794a" fill-opacity="0.85" class="mt" font-weight="bold">Villejuif</text>
<text transform="matrix(0.3901 -0.0903 0.2524 0.1867 180.00 370.00)" font-size="12" fill="#94794a" fill-opacity="0.85" class="mt" font-weight="bold">5th arr.</text>
<text transform="matrix(0.3502 -0.0872 0.2615 0.1801 273.33 370.00)" font-size="12" fill="#94794a" fill-opacity="0.85" class="mt" font-weight="bold">12th arr.</text>
<text transform="matrix(0.4519 -0.0878 0.2269 0.1890 16.67 351.67)" font-size="12" fill="#86703f" fill-opacity="0.85" class="mt" font-weight="bold">Puteaux</text>
</g></g>
<g clip-path="url(#clip2)"><g filter="url(#blur)">
<polygon points="433.5,357.5 662.5,313.0 777.8,388.8 548.5,453.5" fill="#e2dfd0" stroke="#e2dfd0" stroke-width="2"/>
<path d="M602.9 388.5L615.3 374.8M537.6 395.4L539.3 390.1M520.7 400.0L540.2 395.7M647.1 378.3L674.2 372.5M462.2 364.2L477.4 377.8M632.3 405.3L648.5 409.5M637.1 357.3L651.3 366.7M635.3 346.8L640.2 350.2M627.1 410.6L635.9 410.0M578.2 435.3L612.9 425.5M598.5 380.4L606.2 387.5M509.0 342.8L521.0 343.6M601.3 327.4L607.3 323.3M557.9 352.8L574.4 349.0M554.8 346.4L570.2 361.8M652.4 317.0L675.7 311.9M453.4 374.8L467.1 361.5M662.7 351.2L679.6 345.5M476.2 399.0L478.8 380.7M638.1 329.4L649.5 329.3M645.0 333.9L661.7 343.1M637.6 358.9L645.4 351.6M509.5 391.2L528.3 403.7M641.5 417.5L645.5 411.3M518.8 397.4L520.4 389.2M614.8 327.8L624.0 328.1M560.0 390.4L570.1 387.0M727.3 360.7L737.3 363.9M690.9 343.9L709.3 357.9M580.2 336.0L595.2 333.6M497.8 405.2L529.5 400.2M718.6 388.9L734.2 397.2M672.7 350.4L693.0 347.4M520.2 342.9L541.6 336.7M707.5 371.6L734.5 374.2M629.7 409.7L649.9 404.4M631.2 364.5L636.0 369.4M492.8 340.7L509.2 350.4M648.0 351.2L653.0 345.8M601.2 340.1L630.4 342.5M680.5 348.7L681.6 343.2M636.3 407.0L668.5 400.0M637.3 330.6L641.1 325.6M580.1 374.8L596.3 389.3M607.9 411.4L612.3 415.9M608.4 357.1L606.2 351.9M566.2 413.9L574.4 419.3M661.4 323.5L681.9 320.0M727.5 362.4L735.1 368.7M667.1 365.4L678.4 361.8M662.3 406.1L689.8 415.4M699.3 365.8L723.7 378.7M505.7 393.7L529.2 387.7M610.9 382.3L634.4 395.5M579.9 429.7L604.6 425.6M577.6 408.4L586.9 405.7M564.6 373.8L569.6 377.5M531.2 335.5L559.0 343.2M654.7 415.1L679.5 424.9M645.8 380.6L660.6 390.8M646.1 399.0L672.7 406.0M515.9 350.4L537.8 357.3M545.4 347.2L553.4 345.7M606.2 367.1L604.6 362.3M492.4 401.1L528.4 404.0M539.6 388.5L570.4 380.2M557.4 339.8L592.4 341.6M709.9 405.6L720.5 401.7M554.5 376.3L555.1 365.8M694.3 359.2L711.9 372.8M563.8 369.6L584.7 376.7M662.0 405.7L661.8 399.8M674.8 337.1L680.8 342.4M651.5 325.2L658.1 328.7M537.0 428.9L570.4 429.2M602.6 399.0L622.1 392.0M746.3 393.3L767.0 388.7M630.3 384.7L641.1 394.7M494.8 401.6L513.9 409.7M485.4 367.6L521.8 363.2M588.7 342.3L591.4 338.2M597.7 377.2L616.9 376.7M648.6 335.5L653.8 329.0M587.2 337.0L595.4 335.1M591.3 351.5L596.6 338.8M508.3 354.4L527.7 351.7M707.6 369.6L726.5 370.9M483.0 392.0L495.4 376.2M593.6 424.4L611.9 437.2M601.8 368.3L614.0 357.6M662.3 318.1L659.8 312.6M538.4 340.1L542.3 343.5M592.8 422.5L612.3 428.8M669.2 395.6L691.9 389.9M632.7 419.7L646.6 419.8M623.5 378.8L644.2 380.7M615.2 354.6L624.1 360.9M673.4 388.1L683.9 383.9M624.0 359.8L640.5 359.1M547.6 440.5L574.2 456.5M629.4 341.1L636.6 344.8M578.9 435.6L585.5 441.4M564.3 352.8L574.8 350.3M614.0 397.2L625.4 386.0M595.6 405.4L624.7 400.8M602.9 369.4L615.5 380.9M571.9 399.6L573.2 392.9M626.2 331.8L640.8 341.8M637.8 322.1L647.9 318.9M582.9 332.3L609.4 339.3M634.6 378.4L645.3 386.1M595.3 406.3L615.6 402.5M619.7 397.9L639.5 399.2M585.8 411.4L602.9 406.7M572.7 358.4L596.0 363.8M672.1 356.7L681.7 353.4M651.7 361.0L659.3 365.7M620.1 353.9L636.3 349.7M630.5 400.8L639.4 407.1M540.4 432.4L559.4 426.8M699.4 373.1L711.5 383.2M562.1 412.9L569.1 420.1M617.1 380.0L644.6 374.4M604.6 352.5L614.2 354.8M641.0 326.1L662.2 319.8M510.9 360.8L531.0 366.4M620.9 428.8L642.4 422.8M690.2 396.8L727.0 398.9M710.1 383.2L740.0 378.1M634.9 392.9L651.7 388.3M505.3 358.1L524.0 359.1M559.2 363.2L584.9 357.5M665.2 391.5L692.0 387.1M675.8 406.4L686.6 402.9M511.8 369.2L519.2 363.5M676.8 339.9L695.3 353.5M678.6 354.1L695.6 355.7M572.9 353.0L582.4 350.3M745.4 371.4L750.4 375.4M736.6 381.1L745.9 387.2M593.0 341.6L603.7 340.0M700.4 406.9L706.2 411.1M520.9 435.9L532.3 433.7M639.8 372.1L644.2 368.2M456.6 370.6L460.6 375.5M531.3 388.9L565.0 399.5M548.7 372.9L569.3 378.5M589.3 401.0L615.3 395.4M582.5 326.9L603.7 328.4M607.8 369.3L637.4 364.7M645.7 326.3L673.2 329.2M670.1 366.8L680.2 363.8M627.3 431.3L626.3 417.1M633.3 327.2L642.7 325.6M521.9 385.3L527.4 380.9M549.7 449.8L561.8 449.5M655.8 319.9L670.6 331.7M662.3 417.0L657.7 407.0M749.2 376.1L747.7 369.3M587.4 397.4L600.3 394.4M714.4 389.2L714.2 382.2M596.4 355.7L618.0 362.5M714.7 349.5L719.5 352.8M627.2 336.5L637.6 327.1M553.8 430.6L561.0 436.3M547.5 391.0L570.1 398.5M558.7 412.9L565.2 418.5M605.9 417.7L615.7 426.9M533.3 398.4L552.2 393.7M573.3 399.4L602.4 400.3M511.6 387.9L528.8 382.6M525.1 386.6L548.1 401.7M584.2 332.1L602.1 328.2M594.2 373.4L597.9 362.6M659.1 365.6L673.5 354.3M630.5 329.5L650.1 327.1M530.9 341.5L552.7 336.3M667.5 362.8L683.2 377.0M499.9 384.0L531.0 396.8M651.6 360.5L666.7 371.4M749.2 390.9L759.6 399.8M576.3 415.0L574.9 409.7M523.4 402.6L527.9 395.2M447.3 377.5L468.8 365.3M545.2 410.5L551.7 414.3M563.7 387.0L571.6 381.6M578.2 420.7L582.1 425.0M583.3 351.8L598.2 349.1M679.3 333.8L690.1 334.5M547.2 345.5L565.6 356.0M502.2 364.1L510.5 372.5M599.9 344.5L605.4 349.9M571.9 400.1L581.3 397.7M569.0 340.4L570.1 330.7M630.0 324.4L635.2 329.6M560.2 391.5L572.4 389.3M692.5 411.7L688.4 394.5M450.0 355.3L462.9 364.5M607.7 369.8L627.6 377.1M506.8 393.5L514.8 386.7M560.6 395.1L561.6 387.4M661.4 394.9L659.0 379.0M468.5 355.3L482.3 347.1M627.2 321.9L647.6 319.6M582.8 332.4L599.0 331.9M663.7 358.5L677.7 361.9M630.7 389.9L631.5 385.4M617.1 397.0L640.6 388.8M512.9 393.0L530.1 387.0M516.9 405.0L521.7 400.2M679.7 386.1L677.2 379.0M543.0 340.4L553.2 347.3M474.8 393.8L500.8 389.2M583.2 360.6L601.5 373.0M556.6 353.4L574.6 360.3M534.5 382.1L547.3 391.9M653.2 333.1L661.8 333.3M542.0 364.9L568.8 359.2M639.8 379.2L651.9 386.6M683.5 387.3L708.1 382.5M454.4 385.0L492.6 385.3M596.5 405.2L611.9 410.7M571.5 347.4L579.1 349.9M579.3 379.3L600.6 374.4M667.9 378.1L695.9 373.6M572.9 366.0L583.5 372.5M588.0 340.8L607.2 337.8M734.3 395.2L740.0 399.5M594.0 360.7L624.7 356.7M637.0 341.0L657.6 340.5M562.8 368.2L570.0 362.8M569.2 412.1L577.3 419.3M709.0 396.9L721.0 393.5M587.9 326.8L620.2 326.2M545.6 382.6L544.4 368.8M452.0 351.3L461.2 362.3M725.1 393.2L729.6 385.7M514.6 414.6L527.3 428.0M574.7 335.3L604.4 331.3M692.0 343.3L704.2 341.1M630.9 427.0L645.6 423.3M606.6 345.5L638.8 341.5M533.9 384.1L566.3 391.5M499.9 355.9L525.7 349.7M700.8 407.0L719.5 399.8M641.7 342.4L669.4 342.4M513.9 359.0L530.3 374.1M745.6 395.9L759.6 393.3M624.0 393.0L649.8 384.2M462.7 372.4L487.5 381.7M622.0 337.3L642.9 349.1M724.8 388.9L726.7 377.3M673.1 398.1L686.9 392.9M500.1 364.1L526.5 358.5M527.3 362.5L537.0 370.9M519.0 421.9L533.8 419.3M710.1 407.5L736.4 399.3M475.8 360.4L495.3 348.6M552.5 408.7L593.5 410.9M617.0 339.9L622.6 344.7M686.7 357.2L696.3 365.7M517.8 346.4L519.1 339.5M524.5 367.8L533.0 357.7M472.4 348.6L476.1 352.0M665.1 414.1L674.3 423.9M622.3 405.6L637.6 405.9M608.6 421.7L617.9 432.5M469.1 353.3L495.8 348.3M602.4 399.9L618.2 408.7M482.5 384.5L497.6 388.5M615.1 408.1L636.5 404.6M598.0 428.1L607.8 424.0M568.1 364.6L576.5 372.8M549.9 359.6L558.0 366.2M622.1 341.2L644.4 336.7M532.8 348.9L544.8 357.0M529.9 344.4L550.1 339.7M451.7 372.7L463.5 370.8M643.5 412.1L662.6 426.3M624.6 324.5L640.8 326.2M667.0 364.8L685.5 358.7M651.0 326.7L651.0 314.1M610.6 383.2L633.4 375.5M584.8 374.2L604.5 374.7M559.6 339.8L569.5 330.7M663.5 329.1L667.4 323.9M518.4 383.9L550.4 393.3M704.0 397.9L727.4 389.7M712.2 379.4L726.4 383.1M711.8 368.5L722.4 375.7M654.2 395.7L676.3 411.6M511.1 405.8L517.6 401.5M717.3 376.0L725.2 379.3M638.3 330.4L650.2 336.5M638.6 328.6L645.6 327.3M646.5 318.8L655.4 325.0M677.7 414.5L695.4 413.1M742.1 396.1L739.2 389.5M538.0 401.6L548.0 398.2M618.0 354.7L624.9 358.3M645.6 347.9L652.1 353.4M634.4 365.5L633.0 356.2M677.7 340.4L700.1 340.3M555.2 434.2L577.0 429.2M617.5 408.3L614.2 394.9M565.9 362.7L573.3 356.8M610.0 344.4L634.4 344.8M546.3 363.4L577.4 358.7M572.7 335.8L584.8 342.3M500.8 401.8L513.1 418.0M603.1 339.9L620.0 335.9M608.8 390.6L643.5 385.5M551.7 349.2L582.9 360.3M728.7 356.5L743.2 366.1M526.7 351.3L558.7 350.3M547.3 415.6L552.4 397.9M628.3 334.0L632.7 327.2M747.7 385.7L760.5 380.7M623.7 327.3L631.9 329.9M468.5 355.9L485.9 360.7M529.9 382.0L555.7 378.6M611.3 369.1L631.7 365.7M698.2 351.7L731.4 353.4M533.6 338.8L544.1 337.4M522.7 399.0L544.0 393.5M561.2 360.5L568.2 364.9M561.6 378.0L581.7 386.6M566.5 366.8L565.2 358.3M657.8 350.0L668.5 350.0M629.2 321.7L643.8 325.9M668.4 385.0L685.3 379.9M610.2 377.9L631.1 372.3M493.0 405.8L508.9 417.6M654.8 337.2L652.2 331.9M640.3 396.0L653.4 393.7M727.7 391.3L738.2 398.0M563.8 441.1L575.6 449.5M682.5 371.9L701.9 369.3M644.7 369.8L649.3 373.4M571.1 335.2L581.3 325.5M477.8 357.9L497.5 353.5M656.8 356.6L686.8 351.9M647.2 370.8L663.8 367.6M664.7 331.1L675.5 331.2M492.6 373.7L515.1 372.5M558.4 416.1L571.2 403.1M608.2 369.7L619.1 373.7M514.6 378.6L533.3 375.1M608.3 389.4L616.9 378.7M639.8 356.2L652.2 353.9M563.8 375.4L572.2 373.1M604.9 399.3L615.5 400.2M760.7 385.0L763.2 380.4M620.6 327.9L627.2 332.5M628.4 370.2L640.6 378.9M629.3 329.0L639.2 326.3M553.8 431.0L549.9 410.8M630.9 346.8L647.8 359.6M494.0 384.8L509.3 381.5M565.0 387.6L574.3 394.7M724.6 396.4L735.3 394.4M631.2 374.4L653.9 369.1M553.1 372.9L565.2 383.4M582.8 360.5L592.2 370.4M632.7 319.2L663.4 326.4M509.9 345.5L513.1 339.8M598.9 420.8L626.5 416.2M494.5 404.7L514.4 411.3M533.9 420.0L534.5 412.6M588.3 377.9L596.4 376.3M496.5 373.3L506.7 379.8M752.8 388.6L780.9 383.4M672.9 399.4L672.4 387.1M506.0 402.0L521.2 397.0M652.2 317.6L661.2 315.1M435.4 356.0L446.3 370.9M530.7 358.8L562.1 357.3M481.4 383.8L491.3 392.1M689.6 343.3L699.5 348.6M584.5 433.2L608.6 424.9M642.5 378.0L643.9 372.1M499.3 392.5L514.9 407.3M537.6 421.3L543.4 425.8M557.1 369.7L576.0 367.4M604.7 386.6L624.5 399.8M694.8 361.4L718.4 355.5M444.7 358.9L457.1 356.3M583.6 421.5L591.8 430.7M545.8 416.3L556.6 412.7M717.8 378.4L724.9 367.0M557.2 432.5L585.6 426.4M521.8 359.8L542.0 354.6M668.3 364.4L678.3 360.8M743.0 386.9L776.2 395.2M599.7 418.7L599.1 405.4M567.8 351.5L572.7 348.6M586.6 357.0L609.4 350.3M647.3 315.3L667.7 317.1M554.7 353.6L583.7 345.3M566.1 394.4L574.0 401.5M491.5 365.8L493.7 356.5M603.6 438.6L615.0 420.7M604.5 373.1L621.8 388.7M550.7 398.0L568.3 394.5M583.3 331.6L592.3 324.1M661.1 377.8L685.1 377.4M480.9 385.7L485.2 380.0M550.3 382.1L558.6 379.8M641.7 337.8L658.0 341.6M704.6 354.3L707.6 347.8M713.5 370.5L727.4 357.9M681.4 382.2L697.3 396.0M505.6 387.0L528.3 400.0M609.4 386.6L637.3 389.1M668.4 319.0L681.8 331.5M562.2 391.3L572.9 403.9M672.4 373.6L702.2 376.0M678.7 415.3L685.6 402.1M448.6 365.0L464.9 375.9M649.7 359.5L666.0 370.7M654.1 385.7L681.3 377.7M619.3 433.3L617.1 421.7M545.1 362.3L552.9 365.6M690.3 362.5L699.3 354.4M544.3 393.8L556.1 402.6M471.8 380.6L500.1 392.1M592.4 431.8L598.4 427.2M604.6 387.9L634.7 399.5M617.6 363.9L628.9 361.4M597.6 337.5L608.9 347.5M582.9 416.3L603.8 411.9M759.0 378.9L775.5 393.5M564.5 334.8L574.1 327.9M708.7 344.5L724.6 354.4M513.5 424.2L537.2 416.8M430.8 362.1L460.4 363.8M743.5 385.0L757.5 373.5M508.9 338.4L534.4 346.8M584.3 409.9L595.8 418.6M529.6 380.1L539.9 389.1M589.3 339.0L599.4 330.8M647.9 364.6L657.9 365.4M590.6 412.5L592.3 398.5M519.4 377.6L523.2 366.6M604.7 361.5L625.1 361.5M589.3 345.4L624.3 345.5M509.7 402.4L518.3 412.1M667.2 362.3L685.2 372.9M670.9 416.6L693.3 411.7M560.2 389.3L574.7 395.5M620.0 348.2L630.6 348.8M599.9 385.8L614.9 371.4M535.8 343.3L559.4 337.7M662.1 343.6L678.2 352.4M601.9 363.5L618.8 363.0M485.9 349.8L494.5 348.4M558.4 393.9L553.4 378.3M557.0 401.4L578.7 416.5M699.0 375.7L722.7 369.3M688.8 404.4L704.3 415.8M575.6 429.8L593.1 447.4M723.7 393.9L743.0 388.4M587.9 423.5L593.9 428.1M598.8 329.3L622.3 325.9M458.8 351.5L468.3 361.3M447.1 364.8L474.8 361.3M451.0 362.5L472.0 374.7M598.4 352.5L622.7 365.1M499.2 343.1L506.4 348.3M556.0 432.6L563.4 426.1M646.4 363.2L664.7 364.6M596.8 372.6L621.9 383.4M522.5 368.8L555.4 367.1M515.6 354.7L539.8 363.3M504.9 388.6L520.6 406.6M473.9 370.1L485.9 380.3M473.2 378.6L476.8 383.5M435.6 368.9L469.8 370.8M667.7 408.3L692.5 409.0M591.4 345.7L598.3 340.6M523.3 378.8L555.0 391.2M513.4 420.2L521.7 427.7M612.0 419.4L647.1 430.7M591.6 413.8L596.5 418.5M680.0 373.7L696.3 386.1M696.6 400.8L711.4 414.7M649.2 377.6L664.1 375.1M585.0 392.7L623.6 393.3M605.0 348.4L609.9 352.4M630.2 355.8L654.5 352.7M677.5 341.1L691.8 336.2M476.8 378.3L508.9 368.0M612.9 367.3L613.9 356.1M612.8 378.6L613.5 369.0M608.4 331.6L622.1 327.6M689.0 368.2L712.6 363.8M527.2 343.8L532.9 347.2M564.7 403.1L572.6 400.3M679.7 405.8L692.1 402.7M487.8 352.8L503.3 361.6M526.3 395.9L547.7 395.9M579.8 378.3L588.4 377.1M696.0 349.6L696.7 343.2M649.5 323.4L680.3 326.0M644.5 316.8L653.3 322.0M694.2 402.5L721.6 395.9M613.7 332.6L641.2 328.4M653.0 389.6L655.5 378.4M754.9 373.2L760.6 378.4M556.0 342.8L577.0 338.3M575.0 387.3L593.0 399.0M542.7 383.1L540.0 367.4M586.4 393.8L609.1 386.0M636.8 362.5L645.2 365.4M634.1 339.4L649.8 328.4M555.9 386.0L574.8 398.7M627.0 376.9L644.6 386.8M625.2 404.7L647.4 412.8M657.6 318.9L667.3 317.8M657.1 366.2L661.4 370.3M563.5 344.5L562.5 340.3M530.5 400.1L538.5 409.5M702.1 360.9L700.5 356.8M590.7 410.7L599.8 410.7M679.5 353.0L693.6 356.5M549.4 371.8L580.1 368.0M509.4 408.1L531.9 409.4M721.4 364.7L729.3 368.8M666.3 415.6L686.7 409.6M663.8 394.2L670.6 387.4M659.4 334.2L667.7 331.3M476.8 363.5L489.1 361.1M609.1 387.0L616.8 384.7M535.6 339.8L561.2 345.5M632.3 408.7L649.9 425.5M570.1 359.0L597.2 358.5M551.9 352.7L560.0 346.4M727.7 378.2L739.8 376.0M553.7 386.6L564.9 398.6M634.0 346.2L667.9 349.3M555.9 345.9L568.1 342.7M625.8 384.4L632.7 388.5M717.8 361.2L732.3 356.0M602.1 384.8L615.9 399.1M624.7 351.1L633.2 357.4M667.8 349.5L679.9 346.0M668.5 321.8L682.1 331.3M706.2 355.2L728.7 350.0M583.2 415.9L602.5 433.5M738.5 374.7L743.2 378.3M542.8 334.9L573.4 334.0M546.1 387.3L549.6 383.3M556.5 360.5L586.1 353.2M545.9 428.9L570.7 420.4M544.2 396.7L554.2 409.0M728.5 374.4L750.7 368.5M516.9 395.0L550.3 397.1M454.4 367.9L492.3 362.6M470.6 365.2L486.6 362.1M483.8 382.2L510.5 380.6M657.6 326.7L675.9 337.3M592.7 378.4L598.1 382.3M597.7 335.7L618.0 332.0M534.4 451.7L560.9 452.1M561.3 419.1L570.0 413.1M562.8 376.4L584.0 373.4M647.2 317.8L661.3 328.3M585.8 379.5L601.3 367.7M729.4 368.3L741.4 363.6M702.9 356.1L716.4 356.8M465.2 377.7L486.3 390.5M667.1 398.1L680.6 398.0M512.4 420.8L534.9 435.5M518.5 385.8L535.3 374.0M483.0 403.1L514.4 395.6M647.5 313.7L665.5 326.5M589.7 435.9L596.5 443.6M559.2 382.9L560.6 376.4M680.0 359.9L704.6 352.8M534.8 344.3L550.1 343.8M592.1 379.1L605.4 375.3M591.0 380.5L604.1 389.4M559.8 382.8L587.3 381.5M528.4 371.3L555.6 363.8M602.7 327.4L620.9 323.6M578.5 368.2L587.9 371.4M659.4 363.0L677.0 359.5M708.6 378.5L738.5 388.3M588.4 339.9L599.9 338.5M552.3 424.9L560.9 411.5M441.7 375.6L476.7 378.4M698.0 345.8L701.5 342.7M486.5 393.7L503.4 404.5M660.7 328.6L665.4 320.2M513.5 378.4L532.9 384.4M750.9 384.6L764.6 388.1M694.5 348.7L703.1 355.1M569.2 438.1L580.4 435.5M716.6 387.5L729.1 396.4M736.3 371.1L739.0 363.8M718.1 356.9L724.2 361.6M677.0 327.1L682.4 331.3M740.8 377.7L746.7 381.8M447.0 366.1L456.2 355.1M650.8 329.6L659.8 336.7M649.5 350.8L662.8 351.1M623.5 410.7L652.7 400.2M632.8 328.3L656.3 330.4M599.9 330.7L597.9 324.0M544.5 372.1L576.6 363.9M648.4 375.9L676.7 371.9M549.6 339.0L550.5 333.6M517.7 332.6L535.3 347.3M710.7 371.1L731.4 384.8M656.8 363.0L673.8 372.0M567.9 407.0L596.1 400.4M509.9 393.9L518.1 402.6M601.9 350.6L613.5 356.5M619.2 421.2L616.5 408.8M640.7 418.6L637.7 409.8M442.3 368.7L481.5 363.2M637.4 329.6L641.7 325.7M587.5 356.1L591.0 352.2M518.6 358.4L529.9 366.9M741.9 384.3L751.0 392.3M598.8 379.4L622.1 372.3M636.9 332.8L646.8 325.9M596.1 325.6L615.6 329.9M520.3 355.6L552.4 355.6M589.8 374.5L602.5 387.1M598.2 399.1L622.3 414.0M741.5 375.3L739.1 365.9M631.4 349.2L647.5 350.9M446.4 357.7L469.4 351.6M632.3 419.1L641.5 425.2M462.3 360.0L465.6 349.5M623.5 340.0L631.2 344.6M737.9 382.7L766.0 391.3M467.5 385.2L498.5 374.9M626.2 321.4L656.0 321.5M513.1 401.9L523.0 398.6M557.6 352.7L557.1 339.3M600.3 353.8L617.8 368.7M508.8 365.6L517.4 360.2M593.3 361.2L601.5 359.5M672.5 341.2L691.3 351.5M685.3 336.1L690.4 324.9M644.3 421.3L653.7 417.7M682.5 395.7L679.2 387.7M577.6 384.0L606.9 378.3M653.7 335.8L666.9 326.1M530.5 362.3L542.3 354.3M547.5 371.9L563.5 387.1M572.4 392.4L572.6 386.4M634.0 426.2L649.3 426.2M676.8 358.8L691.1 346.9M605.5 364.9L630.8 360.2M467.6 358.3L479.8 357.9M667.5 394.4L695.8 404.3M457.6 390.4L496.0 384.4M490.6 344.1L520.7 352.5M557.8 352.2L589.2 350.9M475.5 353.9L475.9 347.9M723.3 367.8L736.1 377.8M638.4 338.1L646.2 345.3M565.0 393.6L580.3 408.0M496.1 355.0L517.8 352.2M616.9 424.8L649.5 416.7M603.4 354.7L619.6 355.5M712.9 370.0L721.1 376.2M622.9 403.7L656.0 412.6M652.1 367.0L666.3 371.7M518.4 347.0L531.6 354.2M663.3 419.7L660.2 412.2M618.5 323.0L638.8 317.5M554.0 342.0L578.6 349.5M509.7 346.9L521.4 356.9M530.0 374.0L566.7 374.7M523.5 346.6L556.3 356.8M527.3 348.6L552.9 342.5M662.4 359.2L671.8 349.8M646.5 371.8L667.5 368.4M648.9 424.3L657.8 415.8M500.7 348.1L525.2 341.6M585.8 341.8L607.6 353.7M586.5 353.0L594.1 340.8M671.8 343.7L676.9 348.1M626.5 323.6L626.7 317.0M579.9 390.4L575.4 377.4M572.5 386.4L579.4 377.3M619.8 422.4L629.5 412.5M599.4 430.4L616.8 436.8M645.7 352.6L659.6 363.1M679.5 350.4L690.8 350.6M667.7 402.3L694.7 417.3M656.9 397.6L671.1 412.4M498.5 396.5L525.2 389.3M567.3 391.2L569.8 375.5M715.1 363.4L726.0 370.6M577.8 367.9L592.4 376.7M565.0 395.3L574.1 393.3M623.7 382.9L649.4 396.5M720.1 397.9L735.4 406.9M562.3 349.5L595.4 344.3M460.0 357.4L474.4 353.7M559.0 376.8L577.7 383.2M683.7 387.8L712.4 395.3M636.0 320.3L650.9 328.5M473.8 392.4L477.5 388.5M541.9 374.7L550.4 382.4M648.2 331.3L663.0 338.7M604.5 383.8L622.0 382.7M655.2 362.5L674.9 369.8M615.9 377.9L631.2 388.6M614.0 337.8L639.1 332.0M528.7 398.0L533.9 401.8M596.9 332.5L600.3 327.0M551.1 341.1L552.6 331.5M571.5 408.4L586.4 420.4M609.5 395.0L610.4 385.4M741.7 390.7L763.9 397.7M621.8 349.8L618.8 341.1M565.7 354.0L569.0 357.5M545.7 373.1L552.8 362.3M707.2 390.2L708.9 380.8M587.6 350.9L596.6 359.3M521.7 335.6L532.8 345.1M559.9 449.2L577.1 445.5M600.9 333.6L616.4 343.4M738.5 386.4L754.8 385.9M700.1 404.0L702.3 399.6M579.8 367.9L609.2 361.8M631.8 397.8L663.0 390.5M547.7 453.3L560.5 435.2M691.0 357.1L699.2 363.0M581.4 390.3L594.3 387.9M491.4 403.3L505.5 404.2M617.2 342.8L630.8 354.3M726.3 367.1L733.4 364.4M567.9 366.6L577.3 372.7M540.7 342.8L548.6 347.8M710.1 363.8L726.6 378.5M519.9 391.0L536.3 386.7M515.6 428.4L524.6 426.7M595.1 334.2L611.0 343.6M653.9 387.2L665.2 394.2M537.2 355.9L560.1 364.3M692.5 373.2L704.3 363.1M648.7 378.1L661.9 378.0M627.4 348.4L655.8 358.7M690.9 349.3L710.7 354.1M592.6 376.5L607.9 380.6M615.6 411.6L637.2 406.7M649.5 354.4L659.4 364.4M623.5 368.0L642.8 365.3M488.7 409.3L508.0 409.4M584.6 355.2L603.4 355.6M609.8 397.2L630.6 413.3M648.7 395.9L682.7 394.0M611.8 345.2L617.2 339.9M688.6 388.3L684.5 378.2M681.7 384.1L710.9 384.1M485.8 391.6L497.4 405.6M689.0 361.7L693.5 351.0M497.3 350.7L527.9 343.5M564.5 339.6L566.3 331.7M556.8 341.5L569.8 344.7M507.0 363.4L537.7 355.8M615.9 344.8L627.7 346.0M638.8 359.9L645.7 366.8M673.0 371.2L684.9 367.3M679.1 370.2L704.3 366.8M616.7 359.2L640.0 355.7M579.6 411.7L595.2 412.4M448.8 364.6L460.1 379.9M551.0 359.2L554.6 355.1M760.9 388.3L760.6 377.5M669.3 418.9L673.6 412.8M678.9 402.4L693.1 412.2M642.4 350.4L655.8 338.1M541.9 415.1L562.7 401.4M674.0 338.1L680.8 336.3M624.8 324.3L628.3 327.6M641.9 336.7L657.2 333.0M506.7 421.5L509.8 401.8M621.3 367.9L637.7 377.2M547.5 381.0L561.3 389.5M633.6 342.0L633.1 334.4M656.8 345.7L663.9 350.2M711.1 365.8L733.2 367.3M547.1 369.3L563.4 364.8M502.6 337.3L519.7 349.3M727.5 383.5L744.1 394.5M763.1 391.6L771.0 389.7M645.4 361.1L675.6 356.9M537.9 422.3L553.2 425.7M582.7 345.3L599.3 342.1M612.9 429.3L623.2 426.2M558.0 431.9L575.5 443.6M556.5 369.9L588.4 363.2M664.1 399.4L683.2 392.0M715.0 359.5L722.4 364.1M455.9 361.8L477.8 369.8M599.8 356.4L620.8 351.7M495.0 378.3L525.3 369.0M708.0 407.4L713.1 395.8M536.9 397.2L544.8 395.5M482.8 349.7L514.2 345.7M686.0 369.9L708.5 377.4M579.5 373.2L597.0 382.9M594.6 331.8L617.6 344.6M582.9 372.9L591.3 370.6M553.6 337.7L553.9 331.6M691.5 360.2L699.1 349.0M599.2 396.0L614.8 411.1M535.0 409.3L553.7 424.2M676.1 397.1L692.6 410.5M704.9 358.0L720.9 362.8M501.9 357.2L501.7 344.3M453.6 381.4L458.8 370.5M623.3 421.2L635.0 422.2M644.9 375.0L658.4 379.6M587.8 428.1L607.9 411.7M648.2 314.7L679.6 317.5M671.0 405.5L692.9 400.7M441.9 361.7L472.4 356.3M575.1 360.1L608.2 354.9M658.6 335.9L670.8 347.4M612.2 421.3L629.4 432.5M517.3 343.1L550.3 345.1M633.1 316.5L646.4 324.6M537.8 443.6L540.4 433.4M689.1 351.3L713.0 356.8M672.2 417.1L694.3 412.5M585.9 333.1L590.8 337.2M463.1 364.7L475.7 375.7M699.7 407.7L700.6 402.2M566.8 418.3L568.8 411.8M512.4 362.3L519.2 365.1M637.7 363.1L635.1 356.2M524.8 427.6L546.6 424.2M569.9 334.6L579.3 344.0M692.6 397.0L704.7 407.2M643.7 348.0L656.1 354.3M671.3 347.3L685.5 356.8M671.0 349.3L685.2 356.8M453.7 357.2L476.5 351.3M581.7 424.3L594.3 421.7M483.9 362.6L493.6 370.9M716.3 390.9L739.4 381.5M539.9 335.4L544.0 338.7M542.6 344.4L544.5 339.7M584.8 408.9L613.9 404.5M561.4 448.7L562.6 440.3M539.8 338.8L555.0 354.3M439.3 358.6L452.0 354.9M587.5 322.8L604.7 333.5M599.6 380.3L627.1 373.1M718.1 373.0L739.2 369.1M666.2 357.8L692.1 354.5M686.5 351.7L685.9 342.5M650.0 349.3L661.9 358.6M585.7 347.3L587.3 342.5M606.0 375.8L606.5 363.1M709.6 381.4L719.9 379.9M486.5 342.1L498.6 354.4M676.8 412.6L692.2 406.6M652.9 417.3L665.8 414.9M514.4 422.7L523.5 404.7M688.2 382.1L696.3 380.5M657.3 327.5L664.5 325.6M623.3 425.6L634.6 422.3M488.0 386.5L494.0 379.5M641.7 315.1L658.5 326.0M531.0 416.2L540.9 420.0M634.6 345.5L650.1 355.3M499.6 359.1L522.9 360.1M639.1 417.5L651.5 429.4M670.1 324.7L670.3 316.7M675.2 398.9L681.2 403.6M714.6 355.6L731.6 370.3M555.0 393.0L573.6 409.1M495.5 405.3L529.3 396.4M656.7 374.8L679.7 387.7M668.8 372.5L681.4 367.7M714.4 358.4L714.7 353.7M555.4 353.6L568.8 367.9M452.4 357.7L486.3 368.4M618.7 335.4L646.9 341.7M671.0 356.0L687.0 351.7M552.2 336.0L586.0 332.2M565.8 329.2L573.9 333.5M753.1 380.1L770.4 389.1M755.0 398.3L754.5 385.5M725.4 403.0L728.2 399.4M664.1 378.3L685.2 393.0M721.3 399.1L729.2 396.7M630.4 317.2L637.1 322.3M680.8 373.3L708.4 368.4M746.7 374.8L773.9 383.0M713.1 385.0L743.2 380.5M575.7 421.7L584.7 427.3M595.2 335.2L609.6 345.4M538.9 413.0L549.4 416.1M716.4 397.7L741.6 389.4M626.7 317.2L643.3 330.4M597.8 395.2L617.6 390.5M456.0 367.4L464.8 372.4M473.8 390.0L487.0 390.4M573.2 406.1L586.1 415.4M524.0 414.2L532.7 403.7M586.4 382.1L599.0 379.6M446.1 373.9L471.3 374.8M624.5 352.6L659.2 353.6M645.1 329.3L669.5 337.7M621.3 327.5L624.3 319.2M605.6 415.5L616.7 426.9M593.9 376.9L601.6 368.3M566.1 366.9L576.9 363.7M725.4 387.9L747.2 395.5M548.1 401.5L544.8 386.6M568.7 345.5L574.4 338.2M588.8 416.8L612.7 424.4M587.1 368.8L582.5 353.1M692.1 342.6L706.5 352.5M699.3 402.1L716.8 411.5M725.9 387.5L727.5 375.4M479.6 374.3L498.9 390.8M609.3 364.8L638.6 359.8M589.8 403.5L628.9 403.3M747.7 386.0L750.2 382.0M511.6 395.5L518.1 400.5M632.0 337.3L643.9 326.2M661.2 388.1L691.9 388.1M567.5 414.8L577.7 413.0M675.8 380.8L679.4 375.4M623.4 381.0L622.2 364.9M695.4 393.8L699.4 387.1M487.6 398.5L521.5 388.7M677.1 411.1L687.6 415.6M680.8 363.7L689.6 361.3M499.0 342.4L517.4 353.0M470.8 371.4L478.4 381.1M681.4 355.5L689.9 355.6M558.7 414.0L568.0 413.6M471.9 388.6L497.3 383.4M556.2 355.7L583.5 349.2M553.8 413.7L552.6 401.1M463.7 368.6L483.8 375.3M644.4 311.2L664.2 323.4M539.1 370.5L565.6 378.2M642.8 409.0L666.9 402.0M567.1 377.9L581.5 375.8M602.4 423.9L620.3 431.5M621.7 395.6L635.6 404.8M658.2 338.3L687.4 333.8M546.9 375.7L571.0 372.3M638.3 376.1L650.4 376.3M439.3 358.4L459.7 373.6M611.4 421.9L638.1 411.6M649.4 348.4L659.1 340.1M575.0 358.2L589.3 355.5M726.9 365.7L745.2 359.2M545.9 411.2L559.0 422.1M578.7 419.1L592.8 405.6M664.5 342.6L673.6 345.4M577.4 439.8L593.6 435.7M638.0 396.2L659.0 410.9M651.0 425.0L651.8 409.1M569.1 362.2L585.4 351.7M511.5 342.1L546.7 341.2M703.2 365.7L708.9 369.1M646.2 319.7L656.8 318.3M570.3 397.4L577.0 402.6M684.4 393.0L690.6 397.6M682.2 351.1L699.3 356.0M625.3 380.8L646.5 392.0M705.7 377.4L715.8 375.5M630.2 422.1L656.5 415.3M495.8 399.7L503.7 408.4M466.6 394.8L492.9 390.1M594.1 321.2L617.4 327.3M575.9 333.5L591.0 346.0M660.6 345.4L680.9 341.3M617.6 416.6L624.3 405.2M592.9 343.2L613.3 338.2M507.4 357.2L518.9 354.4M558.9 352.8L582.7 349.4M641.6 388.9L670.1 397.4M560.0 360.0L578.0 356.5M657.1 318.6L673.7 316.4M551.6 366.7L550.9 353.2M682.2 359.4L703.6 353.0M700.5 379.4L732.4 381.3M639.6 422.7L649.9 406.5M550.9 355.5L573.8 355.0M631.2 398.0L642.0 395.9M611.3 393.4L629.5 406.9M511.8 341.6L525.1 342.6M539.3 414.7L547.6 424.0M630.6 369.3L648.1 383.9M678.5 379.6L689.5 377.8M568.1 430.0L599.2 443.4M564.8 340.5L577.3 344.9M486.2 384.1L491.7 388.2M734.2 380.2L765.1 382.4M731.1 380.9L756.2 394.3M726.0 381.6L719.2 369.6M487.3 378.2L499.0 369.8M714.0 374.9L738.4 370.3M492.5 360.6L507.2 373.5M546.3 390.3L561.9 404.7M718.1 369.9L749.1 371.2M548.2 398.6L559.7 409.5M633.2 384.7L643.1 388.2M645.3 408.5L664.1 426.1M722.7 385.7L733.7 383.5M741.2 387.5L736.8 379.5M513.6 348.2L540.1 348.1M456.1 362.5L475.8 368.2M520.9 339.3L530.8 350.4M619.9 374.8L628.3 372.6M637.1 321.0L658.0 314.5M574.5 368.1L589.7 368.0M688.3 390.7L722.6 399.4M456.0 367.5L483.4 360.8M671.2 347.8L673.4 343.0M711.5 398.3L708.6 387.5M604.9 366.3L622.0 380.9M501.5 365.2L509.6 363.4M487.5 367.8L509.2 380.4M589.3 388.6L596.2 382.9M499.9 374.4L507.2 365.5M614.8 400.0L633.6 411.5M555.5 331.8L567.3 339.9M438.5 353.6L450.0 365.6M668.3 402.4L693.4 403.0M714.6 373.8L739.8 373.4M662.8 345.2L685.1 347.1M528.8 346.3L537.7 351.1M592.0 435.9L602.0 440.2M512.0 418.8L522.2 419.1M578.0 375.2L600.7 389.6M554.5 435.7L571.4 431.6M639.3 334.0L652.6 335.4M607.3 333.1L631.2 328.2M633.7 359.0L639.6 348.8M728.7 373.7L743.0 383.1M661.0 377.3L681.7 391.9M593.7 328.8L602.6 328.8M628.3 315.7L636.2 322.5M501.7 373.8L507.2 368.8M526.6 387.9L535.3 391.5M750.3 390.0L779.3 384.1M738.9 390.9L748.1 397.7M554.3 441.7L565.2 449.2M559.0 341.4L584.4 342.0M480.6 364.0L489.5 375.0M598.9 425.3L608.5 428.5M568.4 412.5L584.0 408.3M510.9 393.1L522.9 380.4M624.6 397.7L633.0 405.4M498.0 347.0L523.2 353.6M465.4 379.3L472.7 385.1M633.5 350.1L645.2 362.0M551.1 380.6L562.5 379.0M537.5 434.9L551.3 447.4M731.3 359.6L746.5 372.0M694.9 408.8L710.8 405.2M553.4 344.6L569.8 342.4M563.0 353.1L572.4 352.0M548.8 359.7L554.5 364.9M598.4 372.6L610.6 379.2M709.1 382.4L710.9 377.6M537.6 349.6L542.5 354.7M645.8 406.8L655.0 412.9M610.8 354.1L625.2 342.8M559.3 420.7L585.3 414.9M541.2 424.3L561.3 437.6M669.8 340.9L665.3 327.2M591.1 400.3L610.1 411.8M592.0 388.2L601.4 380.5M585.5 335.9L609.7 330.1M524.0 424.4L538.7 441.4M554.8 350.1L559.5 353.3M430.9 353.6L450.8 360.4M570.7 448.4L590.5 432.0M616.1 370.8L629.3 367.9M572.3 346.7L590.0 342.8M617.1 395.2L626.9 395.8M560.4 367.8L583.2 363.7M676.5 331.6L683.4 319.8M463.7 357.8L484.2 354.3M548.9 406.4L557.5 395.9M521.3 372.5L547.9 367.5M472.1 352.5L483.1 359.8M657.2 404.3L668.4 403.6M665.0 415.4L673.8 400.9M480.6 367.7L494.6 365.9M658.1 374.7L665.3 360.1" stroke="#fff" stroke-width="0.55" fill="none" stroke-opacity="0.6"/>
<polyline points="680.6,366.5 732.9,386.2 780.3,400.3" fill="none" stroke="#fff" stroke-width="0.8" stroke-opacity="0.7"/>
<polyline points="626.0,339.8 669.7,353.6 705.3,366.7" fill="none" stroke="#fff" stroke-width="0.8" stroke-opacity="0.7"/>
<polyline points="634.6,355.4 638.2,371.5 639.0,385.6" fill="none" stroke="#fff" stroke-width="0.8" stroke-opacity="0.7"/>
<polyline points="606.2,376.3 692.6,384.0 758.3,393.8" fill="none" stroke="#fff" stroke-width="0.8" stroke-opacity="0.7"/>
<polyline points="599.7,338.7 645.7,344.1 682.5,344.8" fill="none" stroke="#fff" stroke-width="0.8" stroke-opacity="0.7"/>
<polyline points="642.6,396.6 622.6,417.7 609.8,427.5" fill="none" stroke="#fff" stroke-width="0.8" stroke-opacity="0.7"/>
<polyline points="663.5,375.8 634.2,398.0 613.5,411.8" fill="none" stroke="#fff" stroke-width="0.8" stroke-opacity="0.7"/>
<polyline points="674.0,336.5 686.1,349.3 682.2,364.6" fill="none" stroke="#fff" stroke-width="0.8" stroke-opacity="0.7"/>
<polyline points="677.3,355.2 716.0,368.9 747.7,378.0" fill="none" stroke="#fff" stroke-width="0.8" stroke-opacity="0.7"/>
<polyline points="581.8,370.6 616.4,374.8 663.4,379.4" fill="none" stroke="#fff" stroke-width="0.8" stroke-opacity="0.7"/>
<polyline points="605.1,398.0 659.1,408.1 695.1,414.2" fill="none" stroke="#fff" stroke-width="0.8" stroke-opacity="0.7"/>
<polyline points="517.0,358.7 537.2,373.6 573.0,384.4" fill="none" stroke="#fff" stroke-width="0.8" stroke-opacity="0.7"/>
<polyline points="564.4,345.0 543.6,367.3 515.2,390.1" fill="none" stroke="#fff" stroke-width="0.8" stroke-opacity="0.7"/>
<polyline points="723.7,382.5 695.5,387.6 666.9,401.8" fill="none" stroke="#fff" stroke-width="0.8" stroke-opacity="0.7"/>
<polyline points="472.7,374.4 515.0,377.0 561.0,372.8" fill="none" stroke="#fff" stroke-width="0.8" stroke-opacity="0.7"/>
<polyline points="634.7,334.7 661.1,359.1 694.4,391.7" fill="none" stroke="#fff" stroke-width="0.8" stroke-opacity="0.7"/>
<polygon points="463.1,376.7 478.0,377.2 492.5,375.3 493.5,389.8 496.3,402.9 492.1,406.6 480.9,397.3" fill="#c9e2a4" fill-opacity="0.88"/>
<polygon points="705.7,355.3 724.5,352.5 740.0,362.4 756.2,372.5 743.6,377.2 731.9,378.8 717.9,372.9 705.5,371.0 700.1,362.4" fill="#dde9cd" fill-opacity="0.88"/>
<polygon points="520.5,383.9 526.8,383.6 526.3,387.9 521.0,387.9" fill="#c9e2a4" fill-opacity="0.88"/>
<polygon points="532.2,385.4 540.8,386.4 540.3,389.8 531.9,388.9" fill="#c9e2a4" fill-opacity="0.88"/>
<polygon points="543.1,387.0 551.7,387.9 551.2,390.7 542.8,390.1" fill="#c9e2a4" fill-opacity="0.88"/>
<polygon points="526.0,360.9 533.0,360.1 532.2,363.6 525.7,364.2" fill="#c9e2a4" fill-opacity="0.88"/>
<polygon points="477.6,347.6 483.0,346.3 484.6,349.2 478.8,350.4" fill="#c9e2a4" fill-opacity="0.88"/>
<polygon points="646.3,348.3 659.2,345.6 663.8,349.1 651.3,352.5" fill="#c9e2a4" fill-opacity="0.88"/>
<polygon points="615.9,333.4 624.5,332.7 625.3,335.7 619.8,339.7 616.4,339.0" fill="#c9e2a4" fill-opacity="0.88"/>
<polygon points="613.6,322.4 619.9,322.0 619.9,325.2 613.9,325.5" fill="#c9e2a4" fill-opacity="0.88"/>
<polygon points="561.9,368.7 573.6,368.2 573.5,371.4 562.2,371.8" fill="#c9e2a4" fill-opacity="0.88"/>
<polygon points="554.8,380.4 561.8,380.1 561.8,384.3 555.3,384.8" fill="#c9e2a4" fill-opacity="0.88"/>
<polygon points="654.5,314.1 659.2,313.6 659.5,318.4 654.8,318.8" fill="#c9e2a4" fill-opacity="0.88"/>
<polygon points="555.6,380.4 561.8,380.4 562.1,384.3 555.9,384.8" fill="#c9e2a4" fill-opacity="0.88"/>
<polygon points="532.2,385.1 539.2,385.4 538.9,389.0 531.9,388.6" fill="#c9e2a4" fill-opacity="0.88"/>
<polygon points="540.8,386.7 549.4,387.5 549.0,390.1 540.6,389.5" fill="#c9e2a4" fill-opacity="0.88"/>
<polygon points="520.5,383.9 525.5,384.3 525.2,387.8 520.4,387.3" fill="#c9e2a4" fill-opacity="0.88"/>
<polygon points="589.8,392.1 602.3,392.6 602.0,395.4 589.8,394.9" fill="#c9e2a4" fill-opacity="0.88"/>
<polygon points="566.4,408.2 572.6,408.2 572.6,410.9 566.4,410.9" fill="#c9e2a4" fill-opacity="0.88"/>
<polygon points="558.6,425.5 563.3,425.2 563.0,430.2 558.6,430.5" fill="#c9e2a4" fill-opacity="0.88"/>
<polygon points="602.1,425.5 605.2,425.5 605.1,434.8 602.4,434.8" fill="#c9e2a4" fill-opacity="0.88"/>
<polygon points="518.0,425.2 523.2,425.5 524.8,429.9 519.1,429.4" fill="#c9e2a4" fill-opacity="0.88"/>
<polygon points="602.1,425.5 613.0,424.3 613.7,434.0 602.8,435.6" fill="#c9e2a4" fill-opacity="0.88"/>
<polygon points="666.1,402.2 675.4,401.4 676.2,405.0 666.8,405.7" fill="#c9e2a4" fill-opacity="0.88"/>
<polygon points="592.9,392.1 600.7,392.9 600.4,395.2 592.9,394.8" fill="#c9e2a4" fill-opacity="0.88"/>
<polygon points="667.6,402.2 678.5,401.4 678.2,405.7 667.9,406.3" fill="#c9e2a4" fill-opacity="0.88"/>
<polygon points="691.9,392.1 700.5,391.6 700.1,394.4 691.9,394.7" fill="#c9e2a4" fill-opacity="0.88"/>
<polygon points="658.8,347.5 662.7,348.3 662.2,351.9 658.8,351.4" fill="#c9e2a4" fill-opacity="0.88"/>
<polygon points="674.7,327.0 682.5,330.2 680.1,333.3 673.1,329.9" fill="#c9e2a4" fill-opacity="0.88"/>
<polygon points="605.7,345.2 610.7,345.6 610.3,348.8 605.3,348.2" fill="#f1c9cc" fill-opacity="0.88"/>
<polygon points="638.2,378.8 649.1,379.6 648.8,383.8 638.2,383.2" fill="#f1c9cc" fill-opacity="0.88"/>
<polygon points="650.9,363.5 655.9,364.0 655.5,366.0 650.8,365.7" fill="#f1c9cc" fill-opacity="0.88"/>
<polygon points="576.8,342.1 581.9,342.5 581.6,344.7 576.6,344.4" fill="#f1c9cc" fill-opacity="0.88"/>
<polygon points="638.2,378.8 649.9,379.6 649.4,383.8 637.9,382.9" fill="#f1c9cc" fill-opacity="0.88"/>
<polygon points="655.1,408.5 664.4,408.8 664.1,412.3 655.1,412.0" fill="#f1c9cc" fill-opacity="0.88"/>
<polygon points="612.4,389.8 618.2,390.1 617.9,392.4 612.3,392.1" fill="#f1c9cc" fill-opacity="0.88"/>
<polygon points="732.0,372.2 748.0,372.6 748.4,375.4 732.3,375.1" fill="#f1c9cc" fill-opacity="0.88"/>
<polygon points="711.3,397.5 720.7,398.3 720.3,401.0 711.3,400.4" fill="#f1c9cc" fill-opacity="0.88"/>
<polygon points="658.2,408.5 664.4,408.8 664.1,412.3 658.2,411.9" fill="#f1c9cc" fill-opacity="0.88"/>
<polygon points="571.9,390.6 576.6,391.0 576.1,393.2 571.8,392.9" fill="#f1c9cc" fill-opacity="0.88"/>
<polygon points="658.9,340.4 662.4,340.9 662.0,343.1 658.9,342.8" fill="#f1c9cc" fill-opacity="0.88"/>
<polygon points="566.6,329.9 575.2,331.0 576.8,335.8 568.2,334.7" fill="#cfcfcf" fill-opacity="0.88"/>
<polygon points="585.4,326.8 588.6,326.8 589.3,335.0 586.2,335.0" fill="#cfcfcf" fill-opacity="0.88"/>
<polygon points="595.9,427.1 602.4,426.8 602.0,434.8 596.1,435.1" fill="#cfcfcf" fill-opacity="0.88"/>
<polygon points="577.7,397.6 582.8,397.3 580.4,413.1 577.0,413.4" fill="#cfcfcf" fill-opacity="0.88"/>
<polygon points="594.3,427.9 600.5,427.4 600.8,434.8 594.6,435.1" fill="#cfcfcf" fill-opacity="0.88"/>
<polygon points="658.6,371.0 677.3,374.1 699.1,379.6 698.3,382.3 677.3,377.6 658.6,374.5" fill="#cfcfcf" fill-opacity="0.88"/>
<polygon points="685.0,386.6 699.0,388.2 700.5,391.3 686.5,390.1" fill="#cfcfcf" fill-opacity="0.88"/>
<polygon points="723.1,392.1 727.0,391.8 727.3,394.0 723.4,394.3" fill="#9fc3ea" fill-opacity="0.88"/>
<polygon points="471.2,388.9 480.2,386.4 481.3,388.4 472.5,390.9" fill="#e6586a" fill-opacity="0.88"/>
<polygon points="692.6,342.0 704.3,339.9 705.6,342.3 693.6,344.7" fill="#e6586a" fill-opacity="0.88"/>
<polygon points="548.5,414.7 556.3,414.1 556.6,416.5 548.9,417.2" fill="#3fae49" fill-opacity="0.88"/>
<polygon points="673.7,388.7 683.4,387.6 683.8,390.1 674.1,391.3" fill="#3fae49" fill-opacity="0.88"/>
<polygon points="578.8,419.6 588.1,418.7 588.4,421.2 579.1,422.1" fill="#e8c020" fill-opacity="0.88"/>
<polygon points="534.6,440.4 540.8,439.8 541.1,442.1 534.9,442.7" fill="#e8c020" fill-opacity="0.88"/>
<polygon points="588.1,438.5 597.4,437.3 597.7,439.8 588.4,441.0" fill="#e8c020" fill-opacity="0.88"/>
<polygon points="676.1,411.9 683.1,411.2 683.4,413.4 676.4,414.0" fill="#e8c020" fill-opacity="0.88"/>
<polygon points="676.1,411.2 683.1,410.6 683.4,413.1 676.4,413.7" fill="#e8c020" fill-opacity="0.88"/>
<polygon points="483.8,349.2 494.7,348.2 495.1,351.0 484.1,352.0" fill="#e8c020" fill-opacity="0.88"/>
<polygon points="448.1,368.0 452.7,367.2 453.5,369.8 448.9,370.6" fill="#e8c020" fill-opacity="0.88"/>
<polygon points="711.7,375.1 718.7,374.8 718.8,377.3 711.8,377.6" fill="#e8c020" fill-opacity="0.88"/>
<polyline points="554.0,375.4 542.4,377.6 534.1,381.2 529.4,387.5 526.9,394.5 524.8,402.3 522.9,406.9 526.0,391.7 523.2,400.7 521.8,411.6 521.1,420.9 520.6,427.1" fill="none" stroke="#ffffff" stroke-width="3.2" stroke-linejoin="round" stroke-linecap="round"/>
<polyline points="554.0,375.4 542.4,377.6 534.1,381.2 529.4,387.5 526.9,394.5 524.8,402.3 522.9,406.9 526.0,391.7 523.2,400.7 521.8,411.6 521.1,420.9 520.6,427.1" fill="none" stroke="#9fc3ea" stroke-width="2.0" stroke-linejoin="round" stroke-linecap="round"/>
<polyline points="546.2,376.1 561.8,373.4 577.4,371.8 593.0,371.0 608.6,370.4 619.6,371.3 633.6,373.4 647.6,375.7 671.0,379.8 689.7,383.5 705.3,384.8 717.7,385.4 708.4,385.1 724.0,385.1 739.7,381.2 758.5,375.7 768.0,373.3" fill="none" stroke="#a6c7ee" stroke-width="1.05" stroke-linejoin="round" stroke-linecap="round"/>
<polyline points="724.0,385.1 727.8,391.6 736.3,396.0 745.6,397.9 751.9,397.2" fill="none" stroke="#9fc3ea" stroke-width="1.3" stroke-linejoin="round" stroke-linecap="round"/>
<polyline points="476.8,346.3 468.6,354.7 459.3,362.5 454.6,369.8 452.8,374.5 452.0,377.3" fill="none" stroke="#9fc3ea" stroke-width="1.8" stroke-linejoin="round" stroke-linecap="round"/>
<polyline points="472.6,347.3 464.5,354.7 454.6,362.5 450.4,369.8" fill="none" stroke="#f4d040" stroke-width="1.75" stroke-linejoin="round" stroke-linecap="round"/>
<polyline points="479.4,347.6 472.1,355.4 463.3,362.5 458.5,368.0 456.7,374.2 456.2,377.3" fill="none" stroke="#f4d040" stroke-width="1.75" stroke-linejoin="round" stroke-linecap="round"/>
<polyline points="433.7,357.3 444.9,364.1 450.4,369.8 456.7,374.5 462.9,378.1" fill="none" stroke="#f4d040" stroke-width="1.75" stroke-linejoin="round" stroke-linecap="round"/>
<polyline points="460.5,364.1 480.8,366.4 494.8,366.7" fill="none" stroke="#f4d040" stroke-width="1.41" stroke-linejoin="round" stroke-linecap="round"/>
<polyline points="456.7,375.2 476.1,374.2 493.3,373.4" fill="none" stroke="#f4d040" stroke-width="1.41" stroke-linejoin="round" stroke-linecap="round"/>
<polyline points="494.8,366.7 502.6,360.1 511.9,350.7 516.6,346.0 526.0,340.0 538.5,336.6 554.1,333.7" fill="none" stroke="#f4d040" stroke-width="1.75" stroke-linejoin="round" stroke-linecap="round"/>
<polyline points="496.3,342.9 507.2,344.4 516.6,346.0" fill="none" stroke="#f4d040" stroke-width="1.41" stroke-linejoin="round" stroke-linecap="round"/>
<polyline points="502.5,341.6 514.2,343.2 529.1,336.3" fill="none" stroke="#f4d040" stroke-width="1.23" stroke-linejoin="round" stroke-linecap="round"/>
<polyline points="494.8,367.2 495.8,380.5 497.1,394.5 500.4,406.9 501.2,412.4" fill="none" stroke="#f4d040" stroke-width="1.75" stroke-linejoin="round" stroke-linecap="round"/>
<polyline points="491.7,374.5 493.0,389.0 491.7,380.5 495.7,396.0 499.6,408.5 509.0,419.3 518.3,425.8" fill="none" stroke="#f4d040" stroke-width="1.41" stroke-linejoin="round" stroke-linecap="round"/>
<polyline points="491.7,375.8 480.9,385.1 474.7,387.9" fill="none" stroke="#f4d040" stroke-width="1.23" stroke-linejoin="round" stroke-linecap="round"/>
<polyline points="465.3,375.8 476.2,382.0 491.8,394.5" fill="none" stroke="#f4d040" stroke-width="1.23" stroke-linejoin="round" stroke-linecap="round"/>
<polyline points="554.1,333.7 565.1,325.5 593.3,319.2 609.0,317.3 621.5,320.0 627.7,323.1 640.2,327.8 654.3,329.4 662.1,333.3 671.4,341.2 683.8,353.8 694.6,364.7 699.2,371.0 700.4,377.3 696.7,383.5 688.8,388.2" fill="none" stroke="#f4d040" stroke-width="1.75" stroke-linejoin="round" stroke-linecap="round"/>
<polyline points="621.5,320.0 634.0,320.8 646.5,325.5 655.9,327.4 665.3,331.0 668.4,336.5 680.8,347.5 692.3,359.7 698.9,369.4" fill="none" stroke="#f4d040" stroke-width="1.41" stroke-linejoin="round" stroke-linecap="round"/>
<polyline points="687.0,347.5 704.2,352.2 721.4,350.9" fill="none" stroke="#f4d040" stroke-width="1.23" stroke-linejoin="round" stroke-linecap="round"/>
<polyline points="699.5,370.2 710.2,370.2 721.0,375.7 728.8,378.8" fill="none" stroke="#f4d040" stroke-width="1.23" stroke-linejoin="round" stroke-linecap="round"/>
<polyline points="682.2,355.3 674.3,361.6 668.0,372.6" fill="none" stroke="#f4d040" stroke-width="1.23" stroke-linejoin="round" stroke-linecap="round"/>
<polyline points="708.8,356.9 721.2,361.6 725.8,372.6" fill="none" stroke="#f4d040" stroke-width="1.14" stroke-linejoin="round" stroke-linecap="round"/>
<polyline points="501.2,412.4 527.6,412.3 555.5,411.6 580.4,410.0 605.3,408.5 639.6,403.8 658.3,399.9 680.3,383.5 699.2,369.4 697.6,371.3" fill="none" stroke="#f4d040" stroke-width="1.75" stroke-linejoin="round" stroke-linecap="round"/>
<polyline points="524.5,415.9 550.9,415.0 577.3,413.1 602.2,411.6 611.5,410.0 638.0,406.9 655.1,403.8 663.0,397.6 680.3,386.6 696.1,372.6" fill="none" stroke="#f4d040" stroke-width="1.41" stroke-linejoin="round" stroke-linecap="round"/>
<polyline points="509.0,419.3 527.6,422.1 543.1,422.7 561.7,421.7 580.4,420.6 595.9,416.2 605.3,413.9 611.5,413.9 592.8,413.1" fill="none" stroke="#f4d040" stroke-width="1.41" stroke-linejoin="round" stroke-linecap="round"/>
<polyline points="526.0,433.3 543.1,430.9 558.6,431.4 571.0,434.0 581.9,437.6" fill="none" stroke="#f4d040" stroke-width="1.41" stroke-linejoin="round" stroke-linecap="round"/>
<polyline points="581.8,444.1 586.5,437.6 590.4,427.1 594.4,419.3 599.1,410.0" fill="none" stroke="#f4d040" stroke-width="1.41" stroke-linejoin="round" stroke-linecap="round"/>
<polyline points="533.8,434.8 540.0,442.5 547.4,448.7 549.3,453.0" fill="none" stroke="#f4d040" stroke-width="1.41" stroke-linejoin="round" stroke-linecap="round"/>
<polyline points="529.1,438.2 537.2,434.0" fill="none" stroke="#f4d040" stroke-width="1.23" stroke-linejoin="round" stroke-linecap="round"/>
<polyline points="519.0,412.4 518.0,425.8" fill="none" stroke="#f4d040" stroke-width="1.41" stroke-linejoin="round" stroke-linecap="round"/>
<polyline points="524.2,413.1 523.2,427.1" fill="none" stroke="#f4d040" stroke-width="1.41" stroke-linejoin="round" stroke-linecap="round"/>
<polyline points="658.3,399.9 673.8,406.9 686.2,414.7 692.3,418.5" fill="none" stroke="#f4d040" stroke-width="1.41" stroke-linejoin="round" stroke-linecap="round"/>
<polyline points="663.0,397.6 683.2,403.8 701.8,409.2" fill="none" stroke="#f4d040" stroke-width="1.41" stroke-linejoin="round" stroke-linecap="round"/>
<polyline points="678.7,385.1 697.4,386.6 717.7,388.5 736.5,382.3" fill="none" stroke="#f4d040" stroke-width="1.41" stroke-linejoin="round" stroke-linecap="round"/>
<polyline points="736.5,382.3 755.3,382.2 771.7,383.8 767.6,390.1 752.1,387.9 745.8,385.4 736.5,382.3" fill="none" stroke="#f4d040" stroke-width="1.41" stroke-linejoin="round" stroke-linecap="round"/>
<polyline points="699.3,367.9 710.2,366.3 721.1,369.4 727.3,376.5 720.9,381.2" fill="none" stroke="#f4d040" stroke-width="1.23" stroke-linejoin="round" stroke-linecap="round"/>
<polyline points="661.4,399.1 681.6,405.3 704.9,410.0" fill="none" stroke="#f4d040" stroke-width="1.23" stroke-linejoin="round" stroke-linecap="round"/>
<polyline points="592.8,417.8 605.3,411.6 611.5,410.0" fill="none" stroke="#f4d040" stroke-width="1.23" stroke-linejoin="round" stroke-linecap="round"/>
<polyline points="611.5,410.0 620.8,417.8 631.6,428.6" fill="none" stroke="#f4d040" stroke-width="1.23" stroke-linejoin="round" stroke-linecap="round"/>
<polyline points="492.0,369.8 493.6,375.8 492.5,386.7" fill="none" stroke="#b99a5a" stroke-width="1.5" stroke-linejoin="round" stroke-linecap="round"/>
<polyline points="510.3,345.7 516.6,341.0 522.8,338.9" fill="none" stroke="#b99a5a" stroke-width="1.3" stroke-linejoin="round" stroke-linecap="round"/>
<polyline points="662.1,333.3 671.5,339.6" fill="none" stroke="#b99a5a" stroke-width="1.2" stroke-linejoin="round" stroke-linecap="round"/>
<polyline points="626.2,420.1 631.6,430.2" fill="none" stroke="#b99a5a" stroke-width="1.2" stroke-linejoin="round" stroke-linecap="round"/>
<polyline points="692.0,383.2 710.0,383.8 724.0,382.7 739.7,378.8 757.8,373.8" fill="none" stroke="#f59a2c" stroke-width="1.5" stroke-linejoin="round" stroke-linecap="round"/>
<polyline points="616.2,410.8 631.7,411.6 644.1,417.0 656.5,423.2" fill="none" stroke="#f59a2c" stroke-width="1.4" stroke-linejoin="round" stroke-linecap="round"/>
<polyline points="656.7,405.3 652.7,414.7 656.5,423.2" fill="none" stroke="#f59a2c" stroke-width="1.4" stroke-linejoin="round" stroke-linecap="round"/>
<polyline points="680.9,335.7 689.6,331.0" fill="none" stroke="#f59a2c" stroke-width="1.5" stroke-linejoin="round" stroke-linecap="round"/>
<polyline points="581.9,348.8 585.6,348.5" fill="none" stroke="#f59a2c" stroke-width="1.3" stroke-linejoin="round" stroke-linecap="round"/>
<text transform="matrix(0.3636 -0.0836 0.2343 0.1736 593.50 372.92)" font-size="30" fill="#3a3226" fill-opacity="0.95" letter-spacing="2" class="mt" font-weight="bold">Paris</text>
<text transform="matrix(0.4132 -0.0839 0.2182 0.1780 466.74 363.59)" font-size="14" fill="#86703f" fill-opacity="0.85" class="mt" font-weight="bold">Levallois-Perret</text>
<text transform="matrix(0.4258 -0.0896 0.2213 0.1846 456.69 376.09)" font-size="14" fill="#86703f" fill-opacity="0.85" class="mt" font-weight="bold">Neuilly-sur-Seine</text>
<text transform="matrix(0.3769 -0.0749 0.2180 0.1660 524.40 346.01)" font-size="13" fill="#94794a" fill-opacity="0.85" class="mt" font-weight="bold">Clichy</text>
<text transform="matrix(0.3817 -0.0781 0.2208 0.1695 524.41 353.85)" font-size="13" fill="#94794a" fill-opacity="0.85" class="mt" font-weight="bold">17th arr.</text>
<text transform="matrix(0.4179 -0.0952 0.2313 0.1895 496.45 392.14)" font-size="14" fill="#86703f" fill-opacity="0.85" class="mt" font-weight="bold">16th arr.</text>
<text transform="matrix(0.4031 -0.0892 0.2286 0.1824 511.98 379.67)" font-size="12" fill="#94794a" fill-opacity="0.85" class="mt" font-weight="bold">Chaillot</text>
<text transform="matrix(0.4251 -0.0844 0.2147 0.1794 438.68 362.51)" font-size="13" fill="#86703f" fill-opacity="0.85" class="mt" font-weight="bold">Courbevoie</text>
<text transform="matrix(0.4265 -0.0968 0.2303 0.1917 480.91 394.48)" font-size="12" fill="#94794a" fill-opacity="0.85" class="mt" font-weight="bold">Auteuil</text>
<text transform="matrix(0.3603 -0.0718 0.2188 0.1614 555.66 340.49)" font-size="13" fill="#86703f" fill-opacity="0.85" class="mt" font-weight="bold">18th arr.</text>
<text transform="matrix(0.3586 -0.0728 0.2207 0.1622 564.25 343.63)" font-size="12" fill="#94794a" fill-opacity="0.85" class="mt" font-weight="bold">Montmartre</text>
<text transform="matrix(0.3414 -0.0689 0.2204 0.1567 594.78 335.75)" font-size="12" fill="#94794a" fill-opacity="0.85" class="mt" font-weight="bold">La Villette</text>
<text transform="matrix(0.3358 -0.0711 0.2254 0.1585 619.77 343.60)" font-size="13" fill="#94794a" fill-opacity="0.85" class="mt" font-weight="bold">Belleville</text>
<text transform="matrix(0.3685 -0.0808 0.2288 0.1711 569.66 364.01)" font-size="13" fill="#86703f" fill-opacity="0.85" class="mt" font-weight="bold">2nd arr.</text>
<text transform="matrix(0.3536 -0.0788 0.2308 0.1679 601.68 361.65)" font-size="13" fill="#94794a" fill-opacity="0.85" class="mt" font-weight="bold">3rd arr.</text>
<text transform="matrix(0.3684 -0.0828 0.2315 0.1731 577.45 369.49)" font-size="11" fill="#94794a" fill-opacity="0.85" class="mt" font-weight="bold">Quartier du Marais</text>
<text transform="matrix(0.3832 -0.0868 0.2321 0.1784 554.04 377.31)" font-size="11" fill="#94794a" fill-opacity="0.85" class="mt" font-weight="bold">1st arrondissement</text>
<text transform="matrix(0.3758 -0.0867 0.2344 0.1777 572.74 378.55)" font-size="11" fill="#94794a" fill-opacity="0.85" class="mt" font-weight="bold">Rue Saint-Honore</text>
<text transform="matrix(0.3758 -0.0886 0.2370 0.1796 579.74 383.55)" font-size="12" fill="#94794a" fill-opacity="0.85" class="mt" font-weight="bold">Sorbonne</text>
<text transform="matrix(0.3627 -0.0866 0.2387 0.1765 607.02 381.20)" font-size="11" fill="#94794a" fill-opacity="0.85" class="mt" font-weight="bold">Quartier de la Gare</text>
<text transform="matrix(0.3231 -0.0712 0.2294 0.1575 655.72 346.72)" font-size="12" fill="#94794a" fill-opacity="0.85" class="mt" font-weight="bold">11th arr.</text>
<text transform="matrix(0.3120 -0.0631 0.2205 0.1480 652.81 324.69)" font-size="12" fill="#86703f" fill-opacity="0.85" class="mt" font-weight="bold">Les Lilas</text>
<text transform="matrix(0.3131 -0.0660 0.2246 0.1511 662.13 333.35)" font-size="12" fill="#86703f" fill-opacity="0.85" class="mt" font-weight="bold">Bagnolet</text>
<text transform="matrix(0.3063 -0.0714 0.2347 0.1561 704.19 350.94)" font-size="13" fill="#86703f" fill-opacity="0.85" class="mt" font-weight="bold">Montreuil</text>
<text transform="matrix(0.3183 -0.0760 0.2379 0.1619 688.40 361.61)" font-size="12" fill="#94794a" fill-opacity="0.85" class="mt" font-weight="bold">Saint-Mande</text>
<text transform="matrix(0.3079 -0.0741 0.2382 0.1590 710.34 358.47)" font-size="13" fill="#86703f" fill-opacity="0.85" class="mt" font-weight="bold">Vincennes</text>
<text transform="matrix(0.3369 -0.0837 0.2430 0.1714 665.54 378.84)" font-size="12" fill="#94794a" fill-opacity="0.85" class="mt" font-weight="bold">Bercy</text>
<text transform="matrix(0.3209 -0.0841 0.2487 0.1705 711.52 383.82)" font-size="13" fill="#86703f" fill-opacity="0.85" class="mt" font-weight="bold">Charenton-le-Pont</text>
<text transform="matrix(0.3431 -0.0925 0.2531 0.1807 680.10 400.98)" font-size="14" fill="#5f5035" fill-opacity="0.85" class="mt" font-weight="bold">Ivry-sur-Seine</text>
<text transform="matrix(0.3143 -0.0885 0.2570 0.1743 745.64 397.23)" font-size="13" fill="#86703f" fill-opacity="0.85" class="mt" font-weight="bold">Alfortville</text>
<text transform="matrix(0.3062 -0.0839 0.2530 0.1689 752.07 386.62)" font-size="11" fill="#94794a" fill-opacity="0.85" class="mt" font-weight="bold">Maisons-Alfort</text>
<text transform="matrix(0.4272 -0.1109 0.2477 0.2056 526.03 428.94)" font-size="14" fill="#5f5035" fill-opacity="0.85" class="mt" font-weight="bold">Issy-les-Moulineaux</text>
<text transform="matrix(0.3995 -0.0950 0.2374 0.1878 541.56 395.25)" font-size="12" fill="#94794a" fill-opacity="0.85" class="mt" font-weight="bold">Vaugirard</text>
<text transform="matrix(0.4245 -0.1013 0.2367 0.1960 501.15 406.14)" font-size="12" fill="#94794a" fill-opacity="0.85" class="mt" font-weight="bold">Grenelle</text>
<text transform="matrix(0.3980 -0.0988 0.2429 0.1915 558.66 405.36)" font-size="12" fill="#94794a" fill-opacity="0.85" class="mt" font-weight="bold">Montparnasse</text>
<text transform="matrix(0.3817 -0.0935 0.2416 0.1850 582.03 395.24)" font-size="11" fill="#94794a" fill-opacity="0.85" class="mt" font-weight="bold">14th arrondissement</text>
<text transform="matrix(0.3856 -0.0987 0.2470 0.1904 589.75 407.68)" font-size="11" fill="#94794a" fill-opacity="0.85" class="mt" font-weight="bold">Porte de Vanves</text>
<text transform="matrix(0.4254 -0.1055 0.2416 0.2002 512.83 416.23)" font-size="12" fill="#94794a" fill-opacity="0.85" class="mt" font-weight="bold">Boulogne</text>
<text transform="matrix(0.4088 -0.0997 0.2402 0.1932 534.56 405.36)" font-size="12" fill="#94794a" fill-opacity="0.85" class="mt" font-weight="bold">Vanves</text>
<text transform="matrix(0.4116 -0.1146 0.2579 0.2080 575.64 441.00)" font-size="13" fill="#86703f" fill-opacity="0.85" class="mt" font-weight="bold">Malakoff</text>
<text transform="matrix(0.4305 -0.1211 0.2589 0.2157 549.28 452.11)" font-size="12" fill="#86703f" fill-opacity="0.85" class="mt" font-weight="bold">Chatillon</text>
<text transform="matrix(0.3874 -0.1010 0.2494 0.1929 592.84 413.12)" font-size="13" fill="#86703f" fill-opacity="0.85" class="mt" font-weight="bold">Montrouge</text>
<text transform="matrix(0.3695 -0.0998 0.2540 0.1902 634.82 413.89)" font-size="12" fill="#86703f" fill-opacity="0.85" class="mt" font-weight="bold">Gentilly</text>
<text transform="matrix(0.3761 -0.1045 0.2578 0.1954 633.18 424.29)" font-size="11" fill="#94794a" fill-opacity="0.85" class="mt" font-weight="bold">Kremlin-Bicetre</text>
<text transform="matrix(0.3639 -0.0873 0.2392 0.1773 606.23 382.76)" font-size="11" fill="#94794a" fill-opacity="0.85" class="mt" font-weight="bold">Place d'Italie</text>
<text transform="matrix(0.3542 -0.0903 0.2465 0.1795 642.79 392.89)" font-size="11" fill="#94794a" fill-opacity="0.85" class="mt" font-weight="bold">Quartier de la Gare</text>
<text transform="matrix(0.3840 -0.0984 0.2472 0.1900 592.87 407.22)" font-size="11" fill="#94794a" fill-opacity="0.85" class="mt" font-weight="bold">13th arrondissement</text>
<text transform="matrix(0.3752 -0.0963 0.2474 0.1872 608.44 403.79)" font-size="11" fill="#94794a" fill-opacity="0.85" class="mt" font-weight="bold">Maison Blanche</text>
<text transform="matrix(0.3924 -0.1049 0.2526 0.1971 592.80 421.65)" font-size="12" fill="#94794a" fill-opacity="0.85" class="mt" font-weight="bold">Arcueil</text>
<text transform="matrix(0.3473 -0.0903 0.2488 0.1790 661.47 394.44)" font-size="12" fill="#94794a" fill-opacity="0.85" class="mt" font-weight="bold">Villejuif</text>
<text transform="matrix(0.3655 -0.0848 0.2353 0.1750 593.02 375.74)" font-size="12" fill="#94794a" fill-opacity="0.85" class="mt" font-weight="bold">5th arr.</text>
<text transform="matrix(0.3292 -0.0819 0.2429 0.1689 680.41 375.70)" font-size="12" fill="#94794a" fill-opacity="0.85" class="mt" font-weight="bold">12th arr.</text>
<text transform="matrix(0.4219 -0.0827 0.2136 0.1774 440.21 358.59)" font-size="12" fill="#86703f" fill-opacity="0.85" class="mt" font-weight="bold">Puteaux</text>
</g></g>
<line x1="253.9" y1="17.5" x2="253.9" y2="292" stroke="#333" stroke-width="1.5"/>
<line x1="248.2" y1="26.25" x2="259.9" y2="26.25" stroke="#333" stroke-width="1.3"/>
<text x="264.4" y="29.60" class="tl">22:00</text>
<line x1="248.2" y1="61.62" x2="259.9" y2="61.62" stroke="#333" stroke-width="1.3"/>
<text x="264.4" y="65.50" class="tl">20:00</text>
<line x1="248.2" y1="96.99" x2="259.9" y2="96.99" stroke="#333" stroke-width="1.3"/>
<text x="264.4" y="101.40" class="tl">18:00</text>
<line x1="248.2" y1="132.36" x2="259.9" y2="132.36" stroke="#333" stroke-width="1.3"/>
<text x="264.4" y="137.30" class="tl">16:00</text>
<line x1="248.2" y1="167.73" x2="259.9" y2="167.73" stroke="#333" stroke-width="1.3"/>
<text x="264.4" y="173.20" class="tl">14:00</text>
<line x1="248.2" y1="203.10" x2="259.9" y2="203.10" stroke="#333" stroke-width="1.3"/>
<text x="264.4" y="209.10" class="tl">12:00</text>
<line x1="248.2" y1="238.47" x2="259.9" y2="238.47" stroke="#333" stroke-width="1.3"/>
<text x="264.4" y="245.00" class="tl">10:00</text>
<line x1="248.2" y1="273.84" x2="259.9" y2="273.84" stroke="#333" stroke-width="1.3"/>
<text x="264.4" y="280.90" class="tl">08:00</text>
<line x1="433" y1="16.90" x2="778" y2="16.90" stroke="#ededed" stroke-width="1.8"/>
<line x1="433" y1="49.97" x2="778" y2="49.97" stroke="#ededed" stroke-width="1.8"/>
<line x1="433" y1="83.04" x2="778" y2="83.04" stroke="#ededed" stroke-width="1.8"/>
<line x1="433" y1="116.11" x2="778" y2="116.11" stroke="#ededed" stroke-width="1.8"/>
<line x1="433" y1="149.18" x2="778" y2="149.18" stroke="#ededed" stroke-width="1.8"/>
<line x1="433" y1="182.25" x2="778" y2="182.25" stroke="#ededed" stroke-width="1.8"/>
<line x1="433" y1="215.32" x2="778" y2="215.32" stroke="#ededed" stroke-width="1.8"/>
<line x1="433" y1="248.39" x2="778" y2="248.39" stroke="#ededed" stroke-width="1.8"/>
<line x1="662.4" y1="9" x2="662.4" y2="312.6" stroke="#333" stroke-width="1.4"/>
<line x1="433" y1="264.5" x2="778" y2="264.5" stroke="#222" stroke-width="1.2"/>
<line x1="657.2" y1="16.70" x2="667.9" y2="16.70" stroke="#333" stroke-width="1.3"/>
<text x="672.1" y="20.90" class="tr">22:00</text>
<line x1="657.2" y1="49.77" x2="667.9" y2="49.77" stroke="#333" stroke-width="1.3"/>
<text x="672.1" y="54.20" class="tr">20:00</text>
<line x1="657.2" y1="82.84" x2="667.9" y2="82.84" stroke="#333" stroke-width="1.3"/>
<text x="672.1" y="87.50" class="tr">18:00</text>
<line x1="657.2" y1="115.91" x2="667.9" y2="115.91" stroke="#333" stroke-width="1.3"/>
<text x="672.1" y="120.80" class="tr">16:00</text>
<line x1="657.2" y1="148.98" x2="667.9" y2="148.98" stroke="#333" stroke-width="1.3"/>
<text x="672.1" y="154.10" class="tr">14:00</text>
<line x1="657.2" y1="182.05" x2="667.9" y2="182.05" stroke="#333" stroke-width="1.3"/>
<text x="672.1" y="187.40" class="tr">12:00</text>
<line x1="657.2" y1="215.12" x2="667.9" y2="215.12" stroke="#333" stroke-width="1.3"/>
<text x="672.1" y="220.70" class="tr">10:00</text>
<line x1="657.2" y1="248.19" x2="667.9" y2="248.19" stroke="#333" stroke-width="1.3"/>
<text x="672.1" y="254.00" class="tr">08:00</text>
<line x1="487.7" y1="265.5" x2="487.7" y2="373.9" stroke="#999" stroke-width="1.05" stroke-dasharray="2.8,2"/>
<line x1="614.6" y1="265.5" x2="614.6" y2="405" stroke="#999" stroke-width="1.05" stroke-dasharray="2.8,2"/>
<line x1="714.5" y1="265.5" x2="714.5" y2="377" stroke="#999" stroke-width="1.05" stroke-dasharray="2.8,2"/>
<line x1="718.5" y1="265.5" x2="718.5" y2="349" stroke="#999" stroke-width="1.05" stroke-dasharray="2.8,2"/>
<circle cx="356" cy="51.8" r="13.3" fill="none" stroke="#adadad" stroke-width="1.4"/>
<line x1="343.2" y1="40" x2="356" y2="51.8" stroke="#b0b0b0" stroke-width="1.1"/>
<text x="332.4" y="38.2" font-size="12.3" fill="#b0b0b0" class="cn">N</text>
<circle cx="760.4" cy="283.9" r="12.4" fill="none" stroke="#adadad" stroke-width="1.4"/>
<line x1="748.3" y1="273" x2="760.4" y2="283.9" stroke="#b0b0b0" stroke-width="1.1"/>
<text x="738.4" y="279.2" font-size="10.6" fill="#b0b0b0" class="cn">N</text>
<circle cx="126.0" cy="299.4" r="9.7" fill="#fff" stroke="#222" stroke-width="1.5"/>
<path d="M120.665 299.4H131.335M126.0 294.065V304.73499999999996" stroke="#222" stroke-width="1.5" fill="none"/>
<circle cx="334.75" cy="329.35" r="9.7" fill="#fff" stroke="#222" stroke-width="1.5"/>
<path d="M329.415 329.35H340.085M334.75 324.01500000000004V334.685" stroke="#222" stroke-width="1.5" fill="none"/>
<circle cx="63.8" cy="417.8" r="9.7" fill="#fff" stroke="#222" stroke-width="1.5"/>
<path d="M58.464999999999996 417.8H69.13499999999999M63.8 412.46500000000003V423.135" stroke="#222" stroke-width="1.5" fill="none"/>
<circle cx="282.6" cy="427.0" r="9.7" fill="#fff" stroke="#222" stroke-width="1.5"/>
<path d="M277.26500000000004 427.0H287.935M282.6 421.665V432.335" stroke="#222" stroke-width="1.5" fill="none"/>
<circle cx="542.95" cy="309.3" r="9.1" fill="#fff" stroke="#222" stroke-width="1.5"/>
<path d="M537.945 309.3H547.955M542.95 304.295V314.305" stroke="#222" stroke-width="1.5" fill="none"/>
<circle cx="737.8" cy="337.4" r="9.1" fill="#fff" stroke="#222" stroke-width="1.5"/>
<path d="M732.795 337.4H742.805M737.8 332.395V342.405" stroke="#222" stroke-width="1.5" fill="none"/>
<circle cx="484.6" cy="420.4" r="9.1" fill="#fff" stroke="#222" stroke-width="1.5"/>
<path d="M479.595 420.4H489.605M484.6 415.395V425.405" stroke="#222" stroke-width="1.5" fill="none"/>
<circle cx="689.2" cy="429.1" r="9.1" fill="#fff" stroke="#222" stroke-width="1.5"/>
<path d="M684.195 429.1H694.205M689.2 424.095V434.105" stroke="#222" stroke-width="1.5" fill="none"/>
<polyline points="90.7,79.8 113.5,79.8 120.5,69.8 176.9,106.5 173.8,121.3 194.1,143.3 193.8,185.4 213.8,189.8 212.2,212.4 197.4,215.9 193.7,242.2 218.8,270.2 239.8,285.6 251.9,293.2 266.5,316.4 276.7,346.8 311.5,367.2" fill="none" stroke="#00a651" stroke-width="2.8" stroke-linejoin="round" stroke-linecap="round"/>
<polyline points="35.2,79.8 82.2,88.8 106.0,102.8 155.8,114.6 175.1,121.8 188.2,137.7 194.1,156.2 200.9,167.8 227.2,189.8 232.9,214.9 237.3,228.8 238.6,274.0 223.3,299.4 200.9,308.8 205.7,356.7 226.4,367.8 216.3,393.0" fill="none" stroke="#f6a22b" stroke-width="2.8" stroke-linejoin="round" stroke-linecap="round"/>
<polyline points="126.0,114.8 154.0,132.3 159.7,155.2 157.6,180.4 175.5,197.8 173.6,204.9 197.4,230.7 217.5,230.7 219.4,242.2 194.3,251.3 218.2,262.2 190.4,286.4 151.4,293.7 134.2,331.4 126.6,347.1 66.7,362.2" fill="none" stroke="#2e68bd" stroke-width="2.8" stroke-linejoin="round" stroke-linecap="round"/>
<polyline points="178.7,53.5 192.7,69.9 207.3,69.9 218.3,84.3 214.8,97.5 227.1,107.2 227.1,119.4 233.6,130.2 227.1,136.4 236.2,144.8 221.8,155.2 228.0,161.8 217.6,172.8 208.4,178.8 221.6,183.5 213.8,190.2 227.9,197.8 217.5,205.2 227.9,208.7 228.8,225.0 230.7,235.9 223.2,254.8 221.9,270.2 250.1,295.6 254.1,316.4 268.4,325.7 310.9,325.6" fill="none" stroke="#e6007e" stroke-width="2.8" stroke-linejoin="round" stroke-linecap="round"/>
<circle cx="90.7" cy="79.8" r="3.5" fill="url(#sg)"/>
<circle cx="113.5" cy="79.8" r="3.5" fill="url(#sg)"/>
<circle cx="120.5" cy="69.8" r="3.5" fill="url(#sg)"/>
<circle cx="176.9" cy="106.5" r="3.5" fill="url(#sg)"/>
<circle cx="173.8" cy="121.3" r="3.5" fill="url(#sg)"/>
<circle cx="194.1" cy="143.3" r="3.5" fill="url(#sg)"/>
<circle cx="193.8" cy="185.4" r="3.5" fill="url(#sg)"/>
<circle cx="213.8" cy="189.8" r="3.5" fill="url(#sg)"/>
<circle cx="212.2" cy="212.4" r="3.5" fill="url(#sg)"/>
<circle cx="197.4" cy="215.9" r="3.5" fill="url(#sg)"/>
<circle cx="193.7" cy="242.2" r="3.5" fill="url(#sg)"/>
<circle cx="218.8" cy="270.2" r="3.5" fill="url(#sg)"/>
<circle cx="239.8" cy="285.6" r="3.5" fill="url(#sg)"/>
<circle cx="251.9" cy="293.2" r="3.5" fill="url(#sg)"/>
<circle cx="266.5" cy="316.4" r="3.5" fill="url(#sg)"/>
<circle cx="276.7" cy="346.8" r="3.5" fill="url(#sg)"/>
<circle cx="311.5" cy="367.2" r="3.5" fill="url(#sg)"/>
<circle cx="35.2" cy="79.8" r="3.5" fill="url(#so)"/>
<circle cx="82.2" cy="88.8" r="3.5" fill="url(#so)"/>
<circle cx="106.0" cy="102.8" r="3.5" fill="url(#so)"/>
<circle cx="155.8" cy="114.6" r="3.5" fill="url(#so)"/>
<circle cx="175.1" cy="121.8" r="3.5" fill="url(#so)"/>
<circle cx="188.2" cy="137.7" r="3.5" fill="url(#so)"/>
<circle cx="194.1" cy="156.2" r="3.5" fill="url(#so)"/>
<circle cx="200.9" cy="167.8" r="3.5" fill="url(#so)"/>
<circle cx="227.2" cy="189.8" r="3.5" fill="url(#so)"/>
<circle cx="232.9" cy="214.9" r="3.5" fill="url(#so)"/>
<circle cx="237.3" cy="228.8" r="3.5" fill="url(#so)"/>
<circle cx="238.6" cy="274.0" r="3.5" fill="url(#so)"/>
<circle cx="223.3" cy="299.4" r="3.5" fill="url(#so)"/>
<circle cx="200.9" cy="308.8" r="3.5" fill="url(#so)"/>
<circle cx="205.7" cy="356.7" r="3.5" fill="url(#so)"/>
<circle cx="226.4" cy="367.8" r="3.5" fill="url(#so)"/>
<circle cx="216.3" cy="393.0" r="3.5" fill="url(#so)"/>
<circle cx="126.0" cy="114.8" r="3.5" fill="url(#sb)"/>
<circle cx="154.0" cy="132.3" r="3.5" fill="url(#sb)"/>
<circle cx="159.7" cy="155.2" r="3.5" fill="url(#sb)"/>
<circle cx="157.6" cy="180.4" r="3.5" fill="url(#sb)"/>
<circle cx="175.5" cy="197.8" r="3.5" fill="url(#sb)"/>
<circle cx="173.6" cy="204.9" r="3.5" fill="url(#sb)"/>
<circle cx="197.4" cy="230.7" r="3.5" fill="url(#sb)"/>
<circle cx="217.5" cy="230.7" r="3.5" fill="url(#sb)"/>
<circle cx="219.4" cy="242.2" r="3.5" fill="url(#sb)"/>
<circle cx="194.3" cy="251.3" r="3.5" fill="url(#sb)"/>
<circle cx="218.2" cy="262.2" r="3.5" fill="url(#sb)"/>
<circle cx="190.4" cy="286.4" r="3.5" fill="url(#sb)"/>
<circle cx="151.4" cy="293.7" r="3.5" fill="url(#sb)"/>
<circle cx="134.2" cy="331.4" r="3.5" fill="url(#sb)"/>
<circle cx="126.6" cy="347.1" r="3.5" fill="url(#sb)"/>
<circle cx="66.7" cy="362.2" r="3.5" fill="url(#sb)"/>
<circle cx="178.7" cy="53.5" r="3.5" fill="url(#sp)"/>
<circle cx="192.7" cy="69.9" r="3.5" fill="url(#sp)"/>
<circle cx="207.3" cy="69.9" r="3.5" fill="url(#sp)"/>
<circle cx="218.3" cy="84.3" r="3.5" fill="url(#sp)"/>
<circle cx="214.8" cy="97.5" r="3.5" fill="url(#sp)"/>
<circle cx="227.1" cy="107.2" r="3.5" fill="url(#sp)"/>
<circle cx="227.1" cy="119.4" r="3.5" fill="url(#sp)"/>
<circle cx="233.6" cy="130.2" r="3.5" fill="url(#sp)"/>
<circle cx="227.1" cy="136.4" r="3.5" fill="url(#sp)"/>
<circle cx="236.2" cy="144.8" r="3.5" fill="url(#sp)"/>
<circle cx="221.8" cy="155.2" r="3.5" fill="url(#sp)"/>
<circle cx="228.0" cy="161.8" r="3.5" fill="url(#sp)"/>
<circle cx="217.6" cy="172.8" r="3.5" fill="url(#sp)"/>
<circle cx="208.4" cy="178.8" r="3.5" fill="url(#sp)"/>
<circle cx="221.6" cy="183.5" r="3.5" fill="url(#sp)"/>
<circle cx="213.8" cy="190.2" r="3.5" fill="url(#sp)"/>
<circle cx="227.9" cy="197.8" r="3.5" fill="url(#sp)"/>
<circle cx="217.5" cy="205.2" r="3.5" fill="url(#sp)"/>
<circle cx="227.9" cy="208.7" r="3.5" fill="url(#sp)"/>
<circle cx="228.8" cy="225.0" r="3.5" fill="url(#sp)"/>
<circle cx="230.7" cy="235.9" r="3.5" fill="url(#sp)"/>
<circle cx="223.2" cy="254.8" r="3.5" fill="url(#sp)"/>
<circle cx="221.9" cy="270.2" r="3.5" fill="url(#sp)"/>
<circle cx="250.1" cy="295.6" r="3.5" fill="url(#sp)"/>
<circle cx="254.1" cy="316.4" r="3.5" fill="url(#sp)"/>
<circle cx="268.4" cy="325.7" r="3.5" fill="url(#sp)"/>
<circle cx="310.9" cy="325.6" r="3.5" fill="url(#sp)"/>
<polyline points="448.8,361.3 512.7,379.4 557.8,371.4 575.3,372.6 592.9,361.3 624.0,361.3 631.4,373.9 614.0,387.7 597.7,390.8 600.2,397.0 624.0,397.7 615.2,406.4" fill="none" stroke="#f6a22b" stroke-width="2.6" stroke-linejoin="round" stroke-linecap="butt"/>
<polyline points="487.6,373.9 542.8,395.7 569.0,382.6 598.0,390.5 631.0,392.7 607.0,380.0 631.0,388.5 588.0,370.0 588.0,365.0 569.0,361.3 562.8,363.8 571.6,367.6 575.3,357.0 544.0,357.0" fill="none" stroke="#2e68bd" stroke-width="2.6" stroke-linejoin="round" stroke-linecap="butt"/>
<polyline points="508.9,370.0 526.5,380.0 580.4,375.0 589.0,386.4 599.0,377.0 607.7,339.0 624.0,343.5 612.7,357.0 627.0,357.0 612.7,357.5 609.0,361.4 631.0,378.9 632.3,392.0 651.4,407.7 675.2,395.2 685.2,367.6 715.3,377.6" fill="none" stroke="#00a651" stroke-width="2.6" stroke-linejoin="round" stroke-linecap="butt"/>
<polyline points="627.0,338.8 629.6,353.8 633.9,350.6 647.6,361.4 636.4,366.4 635.0,371.4 621.3,371.9 640.0,367.6 647.6,377.6 638.9,380.0 643.9,383.9 635.0,392.7 657.7,392.7 667.7,381.4 679.0,364.6 719.0,349.3" fill="none" stroke="#e6007e" stroke-width="2.6" stroke-linejoin="round" stroke-linecap="butt"/>
<polyline points="510.3,31.5 531.6,31.5 537.9,23.9 591.2,53.4 588.7,64.7 606.9,82.9 606.9,116.8 625.4,118.7 624.8,138.4 609.7,141.2 606.2,162.1 630.3,185.0 649.5,196.6 660.8,203.5 674.6,221.4 684.0,246.5 717.8,262.2" fill="none" stroke="#00a651" stroke-width="2.6" stroke-linejoin="round" stroke-linecap="round"/>
<polyline points="446.0,24.6 490.2,31.5 512.5,42.1 559.2,51.2 577.1,57.2 589.6,68.5 595.3,83.2 601.3,91.7 626.3,108.6 630.1,127.4 635.1,138.4 636.3,173.1 621.9,192.5 601.2,199.8 606.2,236.5 625.0,244.6 615.0,263.4" fill="none" stroke="#f6a22b" stroke-width="2.6" stroke-linejoin="round" stroke-linecap="round"/>
<polyline points="595.0,21.7 607.5,37.7 621.6,41.5 632.0,55.6 628.5,64.7 640.1,75.1 640.1,84.2 646.1,93.9 640.1,96.7 648.6,105.8 635.1,109.6 641.1,115.8 631.0,121.5 622.3,123.7 635.1,130.9 627.3,133.7 640.8,143.1 633.8,147.4 641.3,151.5 642.2,164.3 643.5,172.8 636.3,185.0 635.3,196.6 661.1,222.7 664.8,239.0 678.6,249.9 718.1,262.2" fill="none" stroke="#e6007e" stroke-width="2.6" stroke-linejoin="round" stroke-linecap="round"/>
<rect x="507.2" y="29.0" width="6.2" height="5.08" rx="1.7" fill="url(#qg)"/>
<rect x="528.5" y="29.0" width="6.2" height="5.08" rx="1.7" fill="url(#qg)"/>
<rect x="534.8" y="21.4" width="6.2" height="5.08" rx="1.7" fill="url(#qg)"/>
<rect x="588.1" y="50.9" width="6.2" height="5.08" rx="1.7" fill="url(#qg)"/>
<rect x="585.6" y="62.2" width="6.2" height="5.08" rx="1.7" fill="url(#qg)"/>
<rect x="603.8" y="80.4" width="6.2" height="5.08" rx="1.7" fill="url(#qg)"/>
<rect x="603.8" y="114.3" width="6.2" height="5.08" rx="1.7" fill="url(#qg)"/>
<rect x="622.3" y="116.2" width="6.2" height="5.08" rx="1.7" fill="url(#qg)"/>
<rect x="621.7" y="135.9" width="6.2" height="5.08" rx="1.7" fill="url(#qg)"/>
<rect x="606.6" y="138.7" width="6.2" height="5.08" rx="1.7" fill="url(#qg)"/>
<rect x="603.1" y="159.6" width="6.2" height="5.08" rx="1.7" fill="url(#qg)"/>
<rect x="627.2" y="182.5" width="6.2" height="5.08" rx="1.7" fill="url(#qg)"/>
<rect x="646.4" y="194.1" width="6.2" height="5.08" rx="1.7" fill="url(#qg)"/>
<rect x="657.7" y="201.0" width="6.2" height="5.08" rx="1.7" fill="url(#qg)"/>
<rect x="671.5" y="218.9" width="6.2" height="5.08" rx="1.7" fill="url(#qg)"/>
<rect x="680.9" y="244.0" width="6.2" height="5.08" rx="1.7" fill="url(#qg)"/>
<rect x="714.7" y="259.7" width="6.2" height="5.08" rx="1.7" fill="url(#qg)"/>
<rect x="442.9" y="22.1" width="6.2" height="5.08" rx="1.7" fill="url(#qo)"/>
<rect x="487.1" y="29.0" width="6.2" height="5.08" rx="1.7" fill="url(#qo)"/>
<rect x="509.4" y="39.6" width="6.2" height="5.08" rx="1.7" fill="url(#qo)"/>
<rect x="556.1" y="48.7" width="6.2" height="5.08" rx="1.7" fill="url(#qo)"/>
<rect x="574.0" y="54.7" width="6.2" height="5.08" rx="1.7" fill="url(#qo)"/>
<rect x="586.5" y="66.0" width="6.2" height="5.08" rx="1.7" fill="url(#qo)"/>
<rect x="592.2" y="80.7" width="6.2" height="5.08" rx="1.7" fill="url(#qo)"/>
<rect x="598.2" y="89.2" width="6.2" height="5.08" rx="1.7" fill="url(#qo)"/>
<rect x="623.2" y="106.1" width="6.2" height="5.08" rx="1.7" fill="url(#qo)"/>
<rect x="627.0" y="124.9" width="6.2" height="5.08" rx="1.7" fill="url(#qo)"/>
<rect x="632.0" y="135.9" width="6.2" height="5.08" rx="1.7" fill="url(#qo)"/>
<rect x="633.2" y="170.6" width="6.2" height="5.08" rx="1.7" fill="url(#qo)"/>
<rect x="618.8" y="190.0" width="6.2" height="5.08" rx="1.7" fill="url(#qo)"/>
<rect x="598.1" y="197.3" width="6.2" height="5.08" rx="1.7" fill="url(#qo)"/>
<rect x="603.1" y="234.0" width="6.2" height="5.08" rx="1.7" fill="url(#qo)"/>
<rect x="621.9" y="242.1" width="6.2" height="5.08" rx="1.7" fill="url(#qo)"/>
<rect x="611.9" y="260.9" width="6.2" height="5.08" rx="1.7" fill="url(#qo)"/>
<rect x="591.9" y="19.2" width="6.2" height="5.08" rx="2.3" fill="url(#qp)"/>
<rect x="604.4" y="35.2" width="6.2" height="5.08" rx="2.3" fill="url(#qp)"/>
<rect x="618.5" y="39.0" width="6.2" height="5.08" rx="2.3" fill="url(#qp)"/>
<rect x="628.9" y="53.1" width="6.2" height="5.08" rx="2.3" fill="url(#qp)"/>
<rect x="625.4" y="62.2" width="6.2" height="5.08" rx="2.3" fill="url(#qp)"/>
<rect x="637.0" y="72.6" width="6.2" height="5.08" rx="2.3" fill="url(#qp)"/>
<rect x="637.0" y="81.7" width="6.2" height="5.08" rx="2.3" fill="url(#qp)"/>
<rect x="643.0" y="91.4" width="6.2" height="5.08" rx="2.3" fill="url(#qp)"/>
<rect x="637.0" y="94.2" width="6.2" height="5.08" rx="2.3" fill="url(#qp)"/>
<rect x="645.5" y="103.3" width="6.2" height="5.08" rx="2.3" fill="url(#qp)"/>
<rect x="632.0" y="107.1" width="6.2" height="5.08" rx="2.3" fill="url(#qp)"/>
<rect x="638.0" y="113.3" width="6.2" height="5.08" rx="2.3" fill="url(#qp)"/>
<rect x="627.9" y="119.0" width="6.2" height="5.08" rx="2.3" fill="url(#qp)"/>
<rect x="619.2" y="121.2" width="6.2" height="5.08" rx="2.3" fill="url(#qp)"/>
<rect x="632.0" y="128.4" width="6.2" height="5.08" rx="2.3" fill="url(#qp)"/>
<rect x="624.2" y="131.2" width="6.2" height="5.08" rx="2.3" fill="url(#qp)"/>
<rect x="637.7" y="140.6" width="6.2" height="5.08" rx="2.3" fill="url(#qp)"/>
<rect x="630.7" y="144.9" width="6.2" height="5.08" rx="2.3" fill="url(#qp)"/>
<rect x="638.2" y="149.0" width="6.2" height="5.08" rx="2.3" fill="url(#qp)"/>
<rect x="639.1" y="161.8" width="6.2" height="5.08" rx="2.3" fill="url(#qp)"/>
<rect x="640.4" y="170.3" width="6.2" height="5.08" rx="2.3" fill="url(#qp)"/>
<rect x="633.2" y="182.5" width="6.2" height="5.08" rx="2.3" fill="url(#qp)"/>
<rect x="632.2" y="194.1" width="6.2" height="5.08" rx="2.3" fill="url(#qp)"/>
<rect x="658.0" y="220.2" width="6.2" height="5.08" rx="2.3" fill="url(#qp)"/>
<rect x="661.7" y="236.5" width="6.2" height="5.08" rx="2.3" fill="url(#qp)"/>
<rect x="675.5" y="247.4" width="6.2" height="5.08" rx="2.3" fill="url(#qp)"/>
<rect x="715.0" y="259.7" width="6.2" height="5.08" rx="2.3" fill="url(#qp)"/>
<polyline points="543.9,24.9 570.5,42.1 575.2,64.1 573.6,88.2 590.3,104.9 588.7,111.8 610.7,136.5 629.9,136.5 631.4,147.8 607.9,156.3 630.3,167.8 604.3,190.0 567.9,196.9 552.2,234.3 544.7,248.7 488.0,263.4" fill="none" stroke="#2e68bd" stroke-width="2.6" stroke-linejoin="round" stroke-linecap="round"/>
<circle cx="543.9" cy="24.9" r="3.3" fill="url(#sb)"/>
<circle cx="570.5" cy="42.1" r="3.3" fill="url(#sb)"/>
<circle cx="575.2" cy="64.1" r="3.3" fill="url(#sb)"/>
<circle cx="573.6" cy="88.2" r="3.3" fill="url(#sb)"/>
<circle cx="590.3" cy="104.9" r="3.3" fill="url(#sb)"/>
<circle cx="588.7" cy="111.8" r="3.3" fill="url(#sb)"/>
<circle cx="610.7" cy="136.5" r="3.3" fill="url(#sb)"/>
<circle cx="629.9" cy="136.5" r="3.3" fill="url(#sb)"/>
<circle cx="631.4" cy="147.8" r="3.3" fill="url(#sb)"/>
<circle cx="607.9" cy="156.3" r="3.3" fill="url(#sb)"/>
<circle cx="630.3" cy="167.8" r="3.3" fill="url(#sb)"/>
<circle cx="604.3" cy="190.0" r="3.3" fill="url(#sb)"/>
<circle cx="567.9" cy="196.9" r="3.3" fill="url(#sb)"/>
<circle cx="552.2" cy="234.3" r="3.3" fill="url(#sb)"/>
<circle cx="544.7" cy="248.7" r="3.3" fill="url(#sb)"/>
<circle cx="488.0" cy="263.4" r="3.3" fill="url(#sb)"/>
</svg>
<div class="cap" id="capa" style="left:94px;top:468px;">(a)<span class="gp"></span>3D rendering</div>
<div class="cap" id="capb" style="left:439px;top:468px;">(b)<span class="gp"></span>Space flattening (on top)</div>
</body></html>
